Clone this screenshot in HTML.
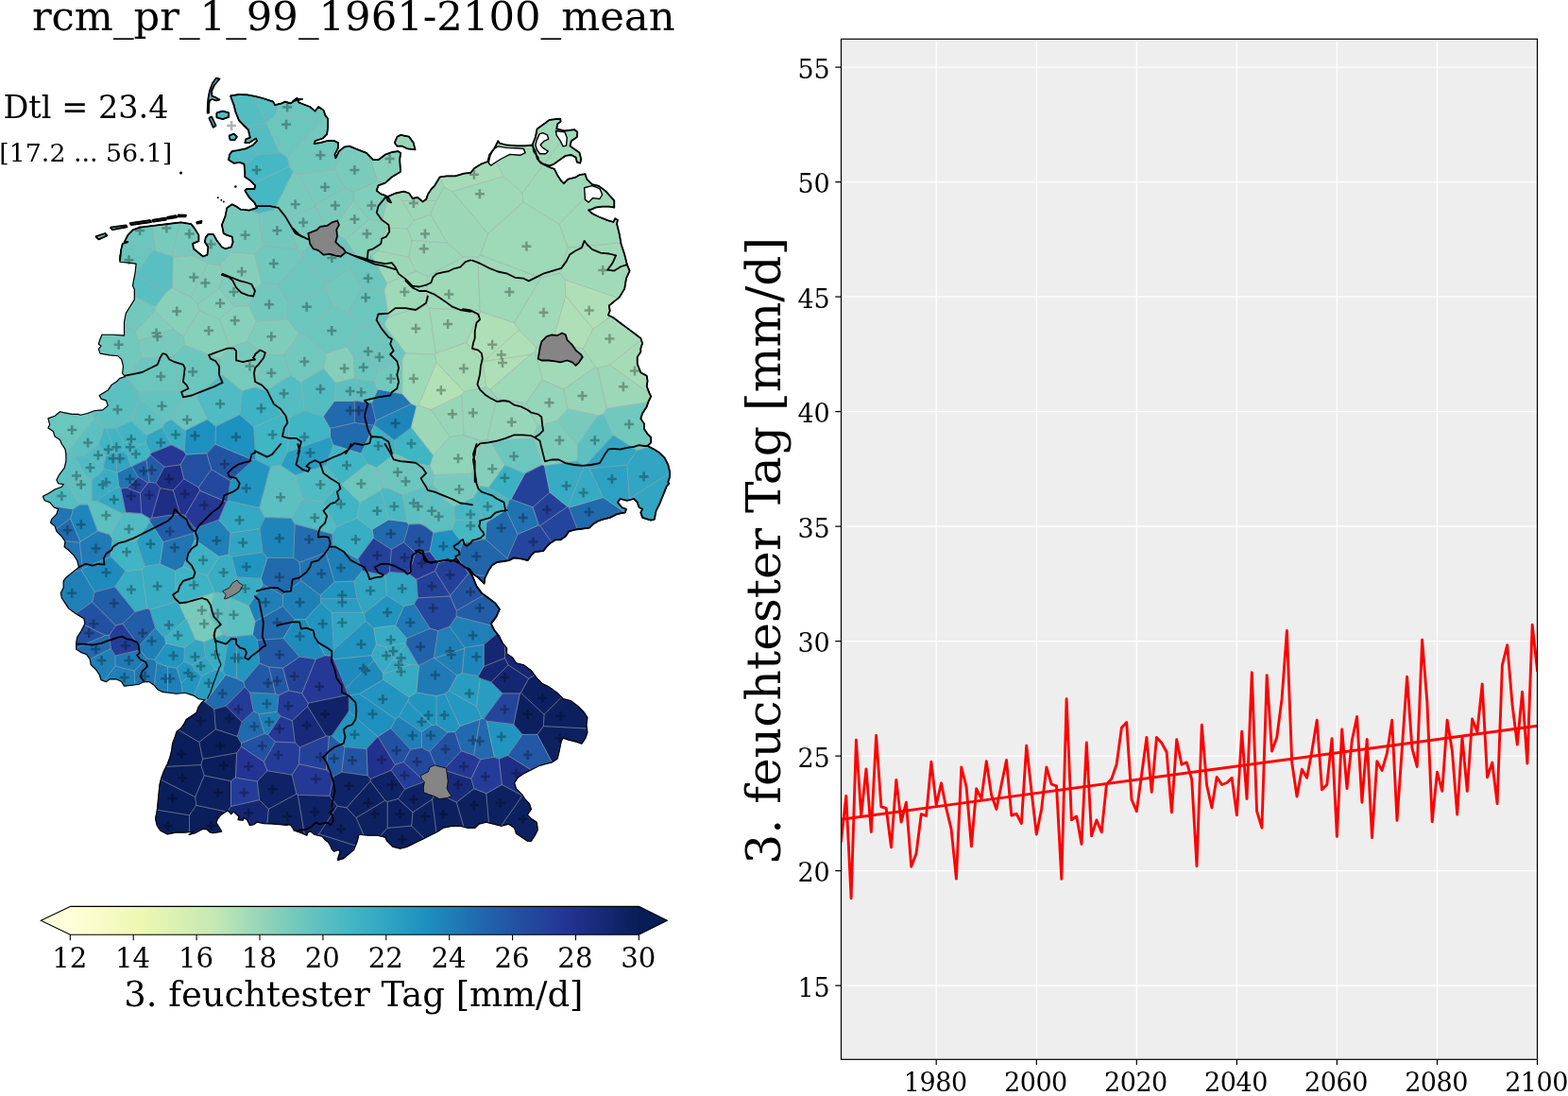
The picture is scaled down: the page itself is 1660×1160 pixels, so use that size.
<!DOCTYPE html>
<html><head><meta charset="utf-8"><title>rcm_pr_1_99_1961-2100_mean</title>
<style>html,body{margin:0;padding:0;background:#fff;width:1660px;height:1160px;overflow:hidden}svg{display:block}</style>
</head><body>
<svg width="1660" height="1160" viewBox="0 0 1660 1160" font-family="'DejaVu Serif', serif"><rect x="890.5" y="41.3" width="737.0" height="1080.0" fill="#eeeeee"/>
<path d="M991.2 41.3V1121.3 M1097.3 41.3V1121.3 M1203.3 41.3V1121.3 M1309.4 41.3V1121.3 M1415.4 41.3V1121.3 M1521.5 41.3V1121.3 M890.5 1043.1H1627.5 M890.5 921.6H1627.5 M890.5 800.1H1627.5 M890.5 678.6H1627.5 M890.5 557.1H1627.5 M890.5 435.6H1627.5 M890.5 314.1H1627.5 M890.5 192.6H1627.5 M890.5 71.1H1627.5" stroke="#fff" stroke-width="1.3" fill="none"/>
<clipPath id="axclip"><rect x="890.5" y="41.3" width="737.0" height="1080.0"/></clipPath>
<g clip-path="url(#axclip)"><polyline points="890.5,890.0 895.8,842.4 901.1,950.8 906.4,783.3 911.7,863.5 917.0,814.0 922.3,880.5 927.6,778.5 932.9,853.8 938.2,855.5 943.5,896.8 948.8,825.4 954.1,870.1 959.4,849.2 964.7,917.2 970.0,903.4 975.3,861.6 980.6,863.5 985.9,806.2 991.2,852.1 996.5,828.8 1001.8,855.7 1007.1,877.6 1012.4,930.1 1017.8,812.0 1023.1,832.9 1028.4,895.8 1033.7,834.8 1039.0,845.3 1044.3,805.7 1049.6,841.4 1054.9,856.5 1060.2,830.2 1065.5,804.5 1070.8,863.0 1076.1,861.3 1081.4,871.5 1086.7,789.2 1092.0,837.5 1097.3,883.0 1102.6,856.5 1107.9,812.0 1113.2,830.2 1118.5,831.9 1123.8,930.3 1129.1,739.8 1134.4,867.9 1139.7,864.0 1145.0,893.4 1150.3,786.0 1155.6,884.9 1160.9,867.9 1166.2,880.8 1171.5,830.0 1176.8,824.2 1182.1,809.1 1187.4,770.2 1192.7,764.6 1198.0,846.3 1203.3,858.7 1208.6,820.0 1213.9,780.4 1219.2,838.3 1224.5,780.4 1229.8,786.2 1235.1,796.0 1240.4,859.9 1245.7,782.8 1251.0,809.3 1256.3,806.9 1261.7,824.9 1267.0,916.7 1272.3,767.1 1277.6,831.0 1282.9,855.0 1288.2,822.5 1293.5,830.5 1298.8,828.5 1304.1,823.2 1309.4,862.8 1314.7,774.3 1320.0,845.5 1325.3,711.6 1330.6,858.7 1335.9,876.2 1341.2,714.6 1346.5,795.0 1351.8,780.4 1357.1,739.4 1362.4,667.4 1367.7,806.9 1373.0,843.1 1378.3,814.2 1383.6,823.2 1388.9,794.8 1394.2,762.2 1399.5,835.8 1404.8,830.5 1410.1,781.6 1415.4,885.4 1420.7,771.9 1426.0,834.6 1431.3,783.8 1436.6,758.5 1441.9,849.2 1447.2,782.4 1452.5,886.6 1457.8,805.7 1463.1,815.4 1468.4,797.2 1473.7,762.2 1479.0,868.4 1484.3,792.3 1489.6,716.3 1494.9,791.6 1500.2,811.5 1505.6,677.1 1510.9,743.2 1516.2,869.8 1521.5,817.1 1526.8,837.3 1532.1,762.2 1537.4,794.8 1542.7,862.1 1548.0,780.2 1553.3,837.3 1558.6,761.0 1563.9,774.6 1569.2,724.0 1574.5,822.7 1579.8,807.1 1585.1,850.6 1590.4,703.9 1595.7,682.7 1601.0,745.4 1606.3,788.0 1611.6,732.1 1616.9,808.1 1622.2,661.3 1627.5,709.5" fill="none" stroke="#ff0000" stroke-width="2.9" stroke-linejoin="round" stroke-linecap="square"/>
<line x1="890.5" y1="867.2" x2="1627.5" y2="768.3" stroke="#ff0000" stroke-width="2.9"/></g>
<rect x="890.5" y="41.3" width="737.0" height="1080.0" fill="none" stroke="#000" stroke-width="1.2"/>
<path d="M884.3 1043.1H890.5 M884.3 921.6H890.5 M884.3 800.1H890.5 M884.3 678.6H890.5 M884.3 557.1H890.5 M884.3 435.6H890.5 M884.3 314.1H890.5 M884.3 192.6H890.5 M884.3 71.1H890.5 M991.2 1121.3V1127.1 M1097.3 1121.3V1127.1 M1203.3 1121.3V1127.1 M1309.4 1121.3V1127.1 M1415.4 1121.3V1127.1 M1521.5 1121.3V1127.1 M1627.5 1121.3V1127.1" stroke="#000" stroke-width="1.2" fill="none"/>
<text x="878.4" y="1054.5" text-anchor="end" font-size="27" letter-spacing="-0.2">15</text>
<text x="878.4" y="933.0" text-anchor="end" font-size="27" letter-spacing="-0.2">20</text>
<text x="878.4" y="811.5" text-anchor="end" font-size="27" letter-spacing="-0.2">25</text>
<text x="878.4" y="690.0" text-anchor="end" font-size="27" letter-spacing="-0.2">30</text>
<text x="878.4" y="568.5" text-anchor="end" font-size="27" letter-spacing="-0.2">35</text>
<text x="878.4" y="447.0" text-anchor="end" font-size="27" letter-spacing="-0.2">40</text>
<text x="878.4" y="325.5" text-anchor="end" font-size="27" letter-spacing="-0.2">45</text>
<text x="878.4" y="204.0" text-anchor="end" font-size="27" letter-spacing="-0.2">50</text>
<text x="878.4" y="82.5" text-anchor="end" font-size="27" letter-spacing="-0.2">55</text>
<text x="990.3" y="1154.6" text-anchor="middle" font-size="27" letter-spacing="-0.45">1980</text>
<text x="1096.4" y="1154.6" text-anchor="middle" font-size="27" letter-spacing="-0.45">2000</text>
<text x="1202.4" y="1154.6" text-anchor="middle" font-size="27" letter-spacing="-0.45">2020</text>
<text x="1308.5" y="1154.6" text-anchor="middle" font-size="27" letter-spacing="-0.45">2040</text>
<text x="1414.5" y="1154.6" text-anchor="middle" font-size="27" letter-spacing="-0.45">2060</text>
<text x="1520.6" y="1154.6" text-anchor="middle" font-size="27" letter-spacing="-0.45">2080</text>
<text x="1626.6" y="1154.6" text-anchor="middle" font-size="27" letter-spacing="-0.45">2100</text>
<text transform="translate(826.4,582.8) rotate(-90)" text-anchor="middle" font-size="50.4">3. feuchtester Tag [mm/d]</text>
<text x="33.9" y="32.3" font-size="43.3">rcm_pr_1_99_1961-2100_mean</text>
<text x="3.5" y="125.1" font-size="33.5">Dtl = 23.4</text>
<text x="-0.7" y="171.1" font-size="26.8">[17.2 ... 56.1]</text>
<linearGradient id="cbg" x1="0" x2="1" y1="0" y2="0"><stop offset="0.0000" stop-color="#ffffd9"/><stop offset="0.1250" stop-color="#edf8b1"/><stop offset="0.2500" stop-color="#c6e9b4"/><stop offset="0.3750" stop-color="#7ecdbb"/><stop offset="0.5000" stop-color="#40b5c4"/><stop offset="0.6250" stop-color="#1d90c0"/><stop offset="0.7500" stop-color="#225da8"/><stop offset="0.8750" stop-color="#243392"/><stop offset="1.0000" stop-color="#081d58"/></linearGradient>
<rect x="74.3" y="959.4" width="602.1" height="29.899999999999977" fill="url(#cbg)"/>
<path d="M75.3 959.4H74.3L43.3 974.3499999999999L74.3 989.3H75.3Z" fill="#ffffd9"/>
<path d="M675.4 959.4H676.4L706.4 974.3499999999999L676.4 989.3H675.4Z" fill="#081d58"/>
<path d="M74.3 959.4L43.3 974.3499999999999L74.3 989.3H676.4L706.4 974.3499999999999L676.4 959.4Z" fill="none" stroke="#000" stroke-width="1.1"/>
<text x="73.7" y="1024.2" text-anchor="middle" font-size="29.2">12</text>
<text x="140.6" y="1024.2" text-anchor="middle" font-size="29.2">14</text>
<text x="207.5" y="1024.2" text-anchor="middle" font-size="29.2">16</text>
<text x="274.4" y="1024.2" text-anchor="middle" font-size="29.2">18</text>
<text x="341.3" y="1024.2" text-anchor="middle" font-size="29.2">20</text>
<text x="408.2" y="1024.2" text-anchor="middle" font-size="29.2">22</text>
<text x="475.1" y="1024.2" text-anchor="middle" font-size="29.2">24</text>
<text x="542.0" y="1024.2" text-anchor="middle" font-size="29.2">26</text>
<text x="608.9" y="1024.2" text-anchor="middle" font-size="29.2">28</text>
<text x="675.8" y="1024.2" text-anchor="middle" font-size="29.2">30</text>
<path d="M74.3 989.3V995.2 M141.2 989.3V995.2 M208.1 989.3V995.2 M275.0 989.3V995.2 M341.9 989.3V995.2 M408.8 989.3V995.2 M475.7 989.3V995.2 M542.6 989.3V995.2 M609.5 989.3V995.2 M676.4 989.3V995.2" stroke="#000" stroke-width="1.1" fill="none"/>
<text x="374.4" y="1064.6" text-anchor="middle" font-size="36.9">3. feuchtester Tag [mm/d]</text>
<path d="M196.8 227.7L188.3 227.5L188.7 229.3L196.5 229.3ZM176.6 230.0L177.6 231.5L187.1 230.0L186.0 228.2ZM161.0 232.9L162.1 234.7L175.8 232.6L175.1 230.7ZM208.1 235.1L208.6 236.5L212.8 236.2L213.5 234.0ZM137.4 236.2L138.9 238.0L159.9 235.1L158.8 233.1ZM116.8 240.7L119.0 243.1L134.4 240.3L133.5 238.5ZM101.2 250.3L104.5 253.4L113.2 249.4L111.4 247.0ZM220.5 104.0L219.8 112.0L219.6 119.5L220.9 119.5L221.1 112.0L221.8 106.5L224.5 105.0L229.0 106.5L232.5 105.5L228.0 103.0L224.3 101.5L224.2 96.0L227.0 90.0L231.0 85.2L232.5 83.5L229.0 82.5L225.0 88.0L222.0 96.0ZM242.1 119.4L235.8 117.6L229.4 119.4L229.4 124.3L235.8 126.1L242.1 123.9ZM221.3 124.8L225.8 134.8L228.5 133.0L224.0 123.5ZM247.6 141.6L242.5 143.5L243.6 147.8L248.5 148.3L250.8 144.7ZM563.4 153.5L556.1 154.4L547.1 154.4L536.2 153.5L529.0 151.7L527.3 149.2L523.7 156.5L518.3 163.7L516.4 171.0L509.2 173.7L502.0 178.2L498.3 182.8L491.1 183.7L482.0 186.4L473.0 186.4L465.7 187.3L460.3 196.3L456.7 200.0L453.1 205.4L451.3 210.8L447.6 213.5L442.2 209.0L436.8 209.9L433.1 204.5L427.7 202.7L418.7 204.5L410.5 208.1L414.1 214.4L410.5 212.6L408.7 207.2L403.3 205.4L398.7 201.8L400.5 196.3L407.8 193.6L415.0 187.3L424.1 181.8L423.2 169.2L424.1 161.9L421.4 160.1L415.0 161.0L407.8 163.7L400.5 169.2L395.1 169.2L387.9 161.9L378.8 158.3L369.8 154.7L364.3 155.6L358.9 160.1L355.3 167.4L354.4 163.7L356.2 160.1L358.0 156.5L358.0 151.1L353.5 148.9L346.2 149.2L339.0 151.1L332.6 152.0L333.5 149.2L341.7 146.5L346.2 142.0L347.1 134.8L347.1 125.7L344.4 122.1L342.6 116.7L337.2 113.0L333.5 117.6L328.1 113.0L316.3 108.5L315.4 106.0L320.0 104.9L315.0 104.9L314.5 103.6L310.0 107.2L311.4 106.9L307.3 109.4L301.9 107.6L298.3 109.4L291.0 111.2L289.2 107.6L278.3 104.0L271.1 102.2L262.0 100.4L253.0 100.0L243.9 101.3L247.6 111.2L249.4 118.5L253.0 127.5L258.4 133.0L262.9 137.5L264.8 145.6L260.2 147.4L259.3 151.1L263.9 151.1L271.1 146.5L272.0 149.2L267.5 153.8L260.2 157.4L251.2 159.2L245.7 160.1L243.0 163.7L242.1 169.2L247.6 172.8L253.9 171.9L258.4 173.7L259.3 181.8L259.3 187.3L264.8 190.9L270.2 196.3L269.3 200.0L261.1 200.0L259.3 201.8L263.9 209.0L269.3 214.4L272.0 219.9L263.9 222.6L254.8 221.7L249.4 218.1L245.7 216.3L240.3 219.9L238.5 228.9L234.9 238.0L236.7 247.0L240.3 248.9L245.7 250.7L246.6 256.1L244.8 261.5L238.5 263.3L234.9 261.5L229.4 254.3L225.8 247.9L220.4 247.9L217.7 251.6L216.8 256.1L220.4 261.5L219.5 269.7L215.0 271.5L209.5 267.0L205.0 263.3L204.1 257.9L210.4 255.2L210.4 248.9L205.9 241.6L202.3 237.1L191.4 235.3L176.9 237.1L162.4 238.9L148.0 240.7L140.7 243.4L135.3 248.9L131.7 256.1L135.3 256.1L129.8 257.9L128.0 265.1L127.1 276.0L126.9 270.0L126.9 277.2L136.0 278.1L144.1 279.1L143.2 288.1L141.4 297.2L140.5 302.6L142.3 306.2L142.3 317.1L137.8 324.3L133.3 331.6L131.5 340.6L131.5 355.1L119.7 354.2L107.9 354.2L106.1 358.7L104.3 364.2L107.0 366.0L104.3 369.6L106.1 374.1L116.1 375.9L125.1 376.8L128.7 380.5L130.5 387.7L129.6 395.0L132.4 398.6L126.9 400.4L123.3 404.0L117.9 407.6L114.2 413.1L105.2 418.5L107.0 422.1L112.4 423.9L114.2 429.4L108.8 433.9L99.8 434.8L92.5 437.5L85.3 439.3L82.6 438.4L76.2 438.4L67.2 436.6L63.5 435.7L58.1 440.2L50.9 442.9L52.7 449.3L50.9 452.9L56.3 456.5L58.1 462.0L63.5 465.6L65.4 470.0L69.0 475.4L69.9 480.9L69.9 488.1L68.1 495.4L62.6 502.6L59.9 508.0L61.7 511.7L67.2 512.6L65.4 515.3L58.1 518.0L50.9 522.5L45.4 525.2L47.2 529.8L52.7 531.6L57.2 537.0L61.7 538.8L59.9 544.2L54.5 549.7L53.6 553.3L58.1 556.9L59.9 562.4L65.4 567.8L69.0 573.2L68.1 578.7L72.6 582.3L78.0 587.7L81.7 593.1L83.5 600.4L78.9 604.0L74.4 607.6L69.9 611.3L67.2 614.9L67.2 622.1L64.4 627.6L65.4 633.0L69.0 638.4L72.6 643.9L79.8 649.3L88.9 654.7L89.9 660.0L86.3 667.2L81.7 674.5L80.8 679.9L80.8 687.2L86.3 690.8L91.7 692.6L95.3 698.0L96.2 703.5L101.7 708.9L105.3 714.3L107.1 719.8L112.5 721.6L116.1 718.9L123.4 718.9L128.8 721.6L131.5 726.1L139.7 725.2L146.9 724.3L152.4 721.6L157.8 721.6L163.2 725.2L166.8 729.7L172.3 732.4L179.5 733.3L186.8 734.2L195.8 733.3L204.9 736.1L210.3 739.7L217.0 740.7L213.4 743.5L209.8 748.9L208.0 754.3L202.5 758.0L197.1 761.6L195.3 765.2L191.7 770.6L187.1 774.2L185.3 779.7L182.6 786.9L181.7 794.2L179.9 801.4L177.2 808.7L173.5 815.9L170.8 823.1L169.0 830.4L168.1 839.4L167.2 848.5L166.3 857.6L164.5 866.6L166.3 873.9L169.9 879.3L173.5 881.1L177.2 882.9L186.2 881.1L195.3 881.1L204.3 880.2L200.0 883.5L206.5 881.7L214.5 877.4L218.8 877.7L221.7 880.6L225.3 881.7L234.7 880.3L232.5 876.3L228.9 870.5L230.4 866.9L234.0 862.5L238.3 859.6L241.2 857.8L244.8 861.8L247.0 858.9L252.8 864.0L252.1 867.6L257.1 868.3L257.8 865.4L261.5 867.6L264.4 873.4L268.7 872.7L272.3 870.1L279.5 871.6L287.5 871.9L296.9 872.7L304.1 873.4L302.3 872.4L307.7 873.3L309.5 876.0L311.3 878.7L315.8 880.5L320.4 882.3L324.9 884.2L325.8 881.4L328.5 879.6L330.3 881.4L333.0 883.3L336.6 884.2L341.1 885.1L343.9 888.7L347.5 891.4L350.2 895.9L351.1 898.6L353.8 901.3L358.3 899.5L360.1 901.3L358.3 906.7L357.4 910.4L363.7 908.6L369.2 904.0L374.6 899.5L378.2 890.5L380.0 883.2L389.9 884.2L399.8 884.2L407.8 886.2L409.7 890.2L415.7 896.1L423.6 898.1L431.5 896.1L439.5 892.1L447.4 888.2L455.3 884.2L463.3 880.2L469.2 876.3L479.1 874.3L487.1 874.3L495.0 876.3L502.9 876.3L506.9 872.3L514.8 870.3L522.7 872.3L530.7 874.3L538.6 872.3L544.6 876.3L546.5 882.2L552.5 886.2L558.4 890.2L562.4 890.2L566.4 884.2L569.3 878.3L568.3 870.3L562.4 866.4L558.4 862.4L562.4 856.4L560.4 850.5L556.4 846.5L552.5 840.6L546.5 834.6L544.6 828.7L548.5 822.7L554.5 818.8L562.4 814.8L570.3 810.8L576.3 808.9L584.2 806.9L590.2 802.9L592.1 795.0L594.1 785.1L596.1 781.1L602.0 783.1L610.0 785.1L615.9 787.1L619.9 781.1L621.9 775.2L620.9 767.2L621.9 759.3L617.9 753.4L612.0 747.4L604.0 741.5L596.1 739.5L590.2 733.5L582.2 727.6L574.3 723.6L568.3 717.7L562.4 709.7L554.5 703.8L546.5 701.8L542.6 695.9L536.6 691.9L536.6 685.9L531.7 680.1L528.0 672.8L523.5 667.4L519.9 660.1L525.3 652.9L528.9 644.8L524.4 638.4L517.2 633.0L509.9 627.6L504.5 620.3L500.0 609.4L497.2 604.9L500.9 607.6L506.3 611.3L509.9 614.9L512.6 617.6L513.5 611.3L517.2 604.0L520.8 598.6L526.2 595.0L533.5 594.0L538.9 593.1L544.3 590.4L551.6 591.3L558.8 593.1L562.4 587.7L566.1 584.1L575.1 583.2L578.7 578.7L582.4 575.0L587.8 571.4L593.2 571.4L598.7 567.8L602.3 562.4L609.5 560.5L616.8 559.6L624.0 558.7L627.6 555.1L633.1 551.5L638.5 549.7L645.7 547.9L653.0 544.2L662.0 542.4L662.9 538.8L658.4 537.0L653.9 531.6L656.6 528.0L663.9 529.8L671.1 528.0L674.7 531.6L676.5 537.0L680.1 538.8L678.3 542.4L680.1 547.9L689.2 550.6L692.8 549.7L694.6 540.6L698.3 533.4L701.9 524.3L705.5 515.3L708.2 511.7L707.3 510.1L709.1 504.6L709.1 499.2L707.3 492.0L703.7 484.7L698.3 479.3L692.8 475.7L685.6 472.0L689.2 468.4L689.2 463.0L685.6 459.4L682.0 453.9L682.0 448.5L678.3 443.1L680.1 437.6L684.7 430.4L686.5 425.0L689.2 419.5L687.4 415.9L684.7 408.7L685.6 403.2L684.7 397.8L678.3 394.2L674.7 385.1L674.7 377.9L678.3 372.4L678.3 368.8L680.1 363.4L678.3 358.0L671.1 352.5L663.9 347.1L656.6 341.7L649.4 336.2L643.9 333.5L645.7 329.0L644.8 323.5L655.7 314.6L661.2 305.6L663.0 294.7L666.6 286.6L663.9 280.2L661.2 269.4L657.6 258.5L655.7 247.6L653.0 236.8L653.9 233.1L651.2 231.3L649.4 235.0L643.1 233.1L634.0 229.5L626.8 225.9L623.1 222.3L626.8 221.4L630.4 219.6L637.6 218.7L644.9 218.7L650.3 219.6L650.3 212.3L641.3 202.4L634.0 196.9L626.8 195.1L621.3 189.7L619.5 184.2L613.2 185.2L608.7 187.9L601.4 189.7L596.9 194.2L594.2 191.5L590.5 186.1L586.9 178.8L581.5 177.0L572.4 172.5L570.6 170.2L574.7 173.4L581.6 175.6L585.9 173.9L592.8 169.1L598.8 164.8L604.8 164.0L609.6 166.6L610.9 171.7L614.3 172.6L615.2 168.3L613.4 161.4L608.3 157.9L603.5 154.5L604.8 149.3L610.9 145.0L611.3 139.8L608.3 137.2L597.9 138.5L589.3 136.4L590.2 131.2L593.6 128.6L593.2 125.6L581.6 126.9L577.2 130.3L568.6 136.4L566.9 145.0L563.9 152.8L564.3 155.4ZM568.8 168.0L567.9 164.3L569.5 166.6L570.3 169.8ZM439.5 158.3L437.7 151.1L433.1 144.7L424.1 142.9L420.5 144.7L417.8 151.1L420.5 154.7L425.9 154.7L431.3 157.4Z" fill="#40b5c4"/>
<g stroke-width="0.6" stroke-linejoin="round">
<path fill="#2075b3" stroke="#2075b3" d="M74.6 548.8L77.6 538.8L55.8 535.4L57.2 537.0L61.7 538.8L59.9 544.2L54.5 549.7L53.6 553.3L58.1 556.9L59.1 560.1ZM86.4 603.7L87.4 601.7L84.3 574.3L68.6 572.6L69.0 573.2L68.1 578.7L72.6 582.3L78.0 587.7L81.7 593.1L83.5 600.4L78.9 604.0L77.5 605.2ZM126.0 515.3L127.9 516.8L134.5 516.3L146.1 504.7L139.5 493.5L138.3 493.2L123.9 500.4ZM143.0 724.8L146.9 724.3L152.4 721.6L157.8 721.6L163.2 725.2L163.3 725.4L166.0 701.5L163.8 698.4L155.5 696.8L142.2 710.2ZM169.3 597.1L185.5 604.2L193.7 600.0L206.4 571.3L205.3 564.4L172.7 573.7ZM318.6 614.4L339.2 630.1L354.2 615.9L345.0 585.0L317.0 595.2ZM398.0 445.1L435.6 427.4L425.8 416.8L399.9 412.0L393.4 426.5ZM446.4 774.6L446.4 791.2L454.8 795.6L474.0 774.9L462.0 766.9L457.0 767.5Z"/>
<path fill="#1f80b8" stroke="#1f80b8" d="M97.6 637.1L100.1 626.6L86.4 603.7L77.5 605.2L74.4 607.6L69.9 611.3L67.2 614.9L67.2 622.1L64.4 627.6L65.4 633.0L69.0 638.4L72.6 643.9L79.8 649.3L80.0 649.4ZM122.0 704.8L122.0 694.0L117.4 686.5L95.1 697.7L95.3 698.0L96.2 703.5L101.7 708.9L105.3 714.3L107.1 719.8L110.0 720.8ZM110.0 720.8L112.5 721.6L116.1 718.9L123.4 718.9L128.8 721.6L131.5 726.1L139.7 725.2L143.0 724.8L142.2 710.2L122.0 704.8ZM148.0 688.0L155.5 696.8L163.8 698.4L175.7 681.0L174.5 675.1L164.5 664.4L147.3 683.9ZM166.0 701.5L163.3 725.4L166.8 729.7L172.3 732.4L177.5 733.1L177.5 705.6ZM177.5 733.1L179.5 733.3L186.8 734.2L193.2 733.6L192.1 723.1L187.0 707.0L177.5 705.6ZM205.3 564.4L206.4 571.3L231.9 589.3L242.1 587.1L244.1 564.2L231.6 550.3L206.3 559.3ZM269.9 658.0L299.4 641.6L299.4 630.0L278.3 618.5L263.2 641.0ZM268.4 752.8L273.8 755.7L293.2 753.3L295.0 735.9L291.7 734.4L264.5 732.9ZM280.1 776.4L283.8 777.5L297.0 757.8L293.2 753.3L273.8 755.7ZM299.4 641.6L312.0 655.5L323.3 655.5L339.8 638.1L339.8 633.8L339.2 630.1L318.6 614.4L299.4 630.0ZM345.0 585.0L354.2 615.9L375.1 615.1L383.5 604.2L379.0 591.4L351.9 577.3ZM413.7 770.7L434.6 793.2L446.4 791.2L446.4 774.6L422.1 758.4L418.9 761.0ZM459.4 696.2L460.2 696.7L491.7 686.2L491.9 685.5L476.1 663.0L463.8 667.8ZM483.8 715.1L489.3 712.5L491.7 686.2L460.2 696.7ZM476.1 663.0L491.9 685.5L512.1 682.3L526.1 670.5L523.5 667.4L520.9 662.1L483.2 652.6Z"/>
<path fill="#216aad" stroke="#216aad" d="M59.1 560.1L59.9 562.4L65.4 567.8L68.6 572.6L84.3 574.3L84.9 573.4L74.6 548.8ZM117.4 686.5L115.7 672.2L111.6 672.6L80.8 685.8L80.8 687.2L86.3 690.8L91.7 692.6L95.1 697.7ZM226.7 750.6L239.1 747.2L259.3 727.0L258.0 721.6L250.5 718.2L239.0 714.1L217.3 743.1ZM255.4 786.6L280.1 776.4L273.8 755.7L268.4 752.8L256.1 764.2L251.3 779.4ZM267.3 671.8L272.6 677.6L299.9 675.6L312.0 655.5L299.4 641.6L269.9 658.0ZM278.3 618.5L299.4 630.0L318.6 614.4L317.0 595.2L310.7 590.3L283.0 590.3L276.2 612.2ZM349.5 462.2L352.8 471.0L382.4 480.1L396.1 450.2L375.3 447.5L349.3 453.4ZM342.0 440.8L349.3 453.4L375.3 447.5L375.3 424.4L354.0 424.4ZM395.4 569.4L414.4 581.4L427.5 573.9L432.8 555.0L430.1 552.3L411.4 549.9L394.0 560.4ZM481.6 774.6L488.3 794.7L501.7 799.3L508.1 761.3L487.0 768.6ZM508.1 761.3L501.7 799.3L508.6 803.7L523.4 801.3L515.3 763.1L512.1 760.6L510.0 760.3ZM513.6 570.5L537.0 591.1L548.0 565.5L535.8 539.7L514.9 552.9ZM661.0 541.9L638.6 526.5L602.3 537.2L611.4 560.3L616.8 559.6L624.0 558.7L627.6 555.1L633.1 551.5L638.5 549.7L645.7 547.9L653.0 544.2L661.2 542.6Z"/>
<path fill="#53bdc1" stroke="#53bdc1" d="M77.6 538.8L84.5 534.2L72.4 513.7L61.1 505.6L59.9 508.0L61.7 511.7L67.2 512.6L65.4 515.3L58.1 518.0L50.9 522.5L45.4 525.2L47.2 529.8L52.7 531.6L55.8 535.4ZM227.5 89.4L231.0 85.2L232.5 83.5L229.0 82.5L225.7 87.0ZM260.9 133.9L281.9 130.4L282.1 129.7L268.1 101.6L262.0 100.4L253.0 100.0L243.9 101.3L247.6 111.2L249.4 118.5L249.4 118.5ZM273.8 163.4L296.4 161.8L281.9 130.4L260.9 133.9L260.3 134.9L262.9 137.5L264.8 145.6L260.2 147.4L259.3 151.1L263.9 151.1L271.1 146.5L272.0 149.2L267.5 153.8L264.2 155.4ZM281.4 413.4L298.2 439.3L306.8 441.7L322.4 434.3L318.7 404.3L307.8 397.3ZM342.0 440.8L354.0 424.4L355.5 405.1L342.8 390.2L318.7 404.3L322.4 434.3Z"/>
<path fill="#5dc0c0" stroke="#5dc0c0" d="M72.4 513.7L91.3 504.3L78.9 483.1L70.2 480.1L69.8 480.2L69.9 480.9L69.9 488.1L68.1 495.4L62.6 502.6L61.1 505.6ZM84.5 534.2L93.2 534.2L97.3 530.8L97.3 507.5L91.3 504.3L72.4 513.7ZM78.9 483.1L89.9 482.1L104.6 470.1L110.5 452.4L99.6 442.7L70.2 480.1ZM112.9 453.0L122.6 453.3L139.2 445.7L147.2 420.8L146.7 415.1L134.6 399.2L130.8 399.1L126.9 400.4L123.3 404.0L117.9 407.6L114.2 413.1L105.2 418.5L107.0 422.1L112.4 423.9L114.2 429.4L108.8 433.9L99.8 434.8L96.6 436.0L99.6 442.7L110.5 452.4ZM93.2 534.2L103.3 562.0L116.5 566.1L129.9 543.8L102.7 530.2L97.3 530.8ZM139.2 445.7L155.3 460.8L171.9 452.5L175.3 446.6L147.2 420.8ZM221.3 652.0L235.9 671.6L237.5 671.6L240.4 631.1L237.9 628.3L227.0 626.8L226.6 627.1ZM242.2 673.8L250.5 673.5L267.3 671.8L269.9 658.0L263.2 641.0L240.4 631.1L237.5 671.6ZM280.4 547.6L308.4 548.4L320.7 527.9L312.8 502.9L297.3 492.6L286.2 494.0L274.7 537.3ZM354.0 424.4L375.3 424.4L375.5 424.3L377.9 401.5L375.3 400.1L355.5 405.1ZM375.5 424.3L393.4 426.5L399.9 412.0L395.8 403.2L377.9 401.5ZM430.1 552.3L432.8 555.0L444.6 554.6L458.5 512.7L458.1 511.7L456.6 512.5L430.1 547.8ZM430.1 547.8L456.6 512.5L425.8 523.8ZM444.6 554.6L450.0 556.9L472.3 530.1L458.5 512.7ZM458.9 563.8L478.8 560.7L481.7 550.5L480.7 536.4L472.3 530.1L450.0 556.9ZM618.7 492.7L619.5 492.8L649.3 460.6L638.8 438.1L633.0 439.7L611.1 470.7L611.1 487.9Z"/>
<path fill="#6bc6be" stroke="#6bc6be" d="M70.2 480.1L99.6 442.7L96.6 436.0L92.5 437.5L85.3 439.3L82.6 438.4L76.2 438.4L67.2 436.6L63.5 435.7L58.1 440.2L50.9 442.9L52.7 449.3L50.9 452.9L56.3 456.5L58.1 462.0L63.5 465.6L65.4 470.0L69.0 475.4L69.8 480.2ZM144.0 290.4L160.7 266.4L134.0 256.5L129.8 257.9L128.0 265.1L127.1 276.0L126.9 270.0L126.9 277.2L136.0 278.1L144.1 279.1L143.2 288.1L142.6 291.2ZM109.7 247.6L101.2 250.3L104.5 253.4L113.2 249.4L112.6 248.6ZM146.7 415.1L189.7 413.4L184.3 376.0L150.0 378.9L134.6 399.2ZM112.6 248.6L111.4 247.0L109.7 247.6ZM132.8 256.1L135.3 256.1L134.0 256.5L160.7 266.4L164.2 265.5L161.9 239.0L148.0 240.7L140.7 243.4L135.3 248.9L131.9 255.7ZM138.9 238.0L159.9 235.1L158.8 233.1L137.4 236.2ZM119.0 243.1L134.4 240.3L133.5 238.5L116.8 240.7ZM184.3 376.0L189.7 413.4L195.1 418.2L207.8 419.7L234.9 396.5L233.2 379.9L195.2 365.1ZM281.9 130.4L296.4 161.8L304.2 166.8L341.7 125.2L291.5 121.8L282.1 129.7ZM291.5 121.8L341.7 125.2L345.0 122.9L344.4 122.1L342.6 116.7L337.2 113.0L333.5 117.6L328.1 113.0L316.3 108.5L315.4 106.0L320.0 104.9L315.0 104.9L314.5 103.6L310.0 107.2L311.4 106.9L307.3 109.4L301.9 107.6L298.3 109.4L294.2 110.4ZM304.0 338.0L317.0 353.5L322.5 353.7L351.7 323.1L345.2 306.0L305.0 320.2ZM345.5 374.2L367.1 367.0L380.2 343.8L368.0 331.3L351.7 323.1L322.5 353.7ZM380.2 343.8L406.8 342.7L411.2 335.6L407.0 307.0L384.0 304.3L368.0 331.3ZM377.9 401.5L395.8 403.2L399.8 393.6L392.3 381.8L373.9 376.5L375.3 400.1ZM369.9 284.8L384.0 304.3L407.0 307.0L409.7 299.8L394.0 270.9L377.5 271.4ZM534.2 492.2L555.6 501.3L574.3 491.9L564.3 463.4L519.2 466.4Z"/>
<path fill="#1f7ab5" stroke="#1f7ab5" d="M84.3 574.3L87.4 601.7L117.1 589.0L119.1 570.6L116.5 566.1L103.3 562.0L84.9 573.4ZM122.0 704.8L142.2 710.2L155.5 696.8L148.0 688.0L122.0 694.0ZM418.5 661.9L430.7 675.7L455.3 665.1L438.4 639.1L427.7 641.5ZM440.7 732.9L462.0 736.6L471.1 734.5L475.4 731.0L483.8 715.1L460.2 696.7L459.4 696.2L443.6 704.4Z"/>
<path fill="#1e86bb" stroke="#1e86bb" d="M74.6 548.8L84.9 573.4L103.3 562.0L93.2 534.2L84.5 534.2L77.6 538.8Z"/>
<path fill="#71c8bd" stroke="#71c8bd" d="M134.6 399.2L150.0 378.9L146.3 360.8L143.2 350.7L131.5 345.6L131.5 355.1L119.7 354.2L107.9 354.2L106.1 358.7L104.3 364.2L107.0 366.0L104.3 369.6L106.1 374.1L116.1 375.9L125.1 376.8L128.7 380.5L130.5 387.7L129.6 395.0L132.4 398.6L130.8 399.1ZM277.0 299.5L294.6 301.4L320.3 273.4L319.7 267.5L314.6 263.8L278.4 260.1L269.4 269.1ZM269.9 410.0L281.4 413.4L307.8 397.3L300.3 375.5L280.8 375.5ZM306.4 176.2L310.1 182.1L315.6 184.9L354.2 179.4L364.5 155.6L364.3 155.6L358.9 160.1L355.3 167.4L354.4 163.7L356.2 160.1L358.0 156.5L358.0 151.1L353.5 148.9L346.2 149.2L339.0 151.1L332.6 152.0L333.5 149.2L341.7 146.5L346.2 142.0L347.1 134.8L347.1 125.7L345.0 122.9L341.7 125.2L304.2 166.8ZM307.8 397.3L318.7 404.3L342.8 390.2L345.5 374.2L322.5 353.7L317.0 353.5L300.3 375.5ZM345.2 306.0L351.7 323.1L368.0 331.3L384.0 304.3L369.9 284.8L345.5 300.5ZM399.9 412.0L425.8 416.8L425.8 379.9L399.8 393.6L395.8 403.2ZM638.8 438.1L649.3 460.6L674.0 476.8L687.5 473.0L685.6 472.0L689.2 468.4L689.2 463.0L685.6 459.4L682.0 453.9L682.0 448.5L678.3 443.1L680.1 437.6L684.7 430.4L686.3 425.7L642.3 432.3Z"/>
<path fill="#2351a2" stroke="#2351a2" d="M80.0 649.4L88.9 654.7L89.9 660.0L89.2 661.4L111.6 672.6L115.7 672.2L122.6 662.1L97.6 637.1ZM111.6 672.6L89.2 661.4L86.3 667.2L81.7 674.5L80.8 679.9L80.8 685.8ZM279.3 806.2L291.4 785.1L283.8 777.5L280.1 776.4L255.4 786.6L255.4 790.2ZM400.0 779.6L418.3 809.4L427.2 806.5L434.6 793.2L413.7 770.7ZM464.1 816.8L469.3 815.0L488.3 794.7L481.6 774.6L474.0 774.9L454.8 795.6Z"/>
<path fill="#50bbc2" stroke="#50bbc2" d="M97.3 507.5L104.3 502.4L110.0 496.3L109.3 494.4L89.9 482.1L78.9 483.1L91.3 504.3ZM109.3 494.4L111.9 483.2L104.6 470.1L89.9 482.1ZM119.1 570.6L144.5 573.1L158.7 552.2L158.9 548.9L149.8 543.5L133.0 542.3L129.9 543.8L116.5 566.1ZM260.9 133.9L249.4 118.5L253.0 127.5L258.4 133.0L260.3 134.9ZM225.7 87.0L225.0 88.0L222.0 96.0L220.5 104.0L219.8 112.0L219.6 119.5L220.9 119.5L221.1 112.0L221.8 106.5L224.5 105.0L229.0 106.5L232.5 105.5L228.0 103.0L224.3 101.5L224.2 96.0L227.0 90.0L227.5 89.4ZM235.8 117.6L229.4 119.4L229.4 124.3L235.8 126.1L242.1 123.9L242.1 119.4ZM225.8 134.8L228.5 133.0L224.0 123.5L221.3 124.8ZM242.5 143.5L243.6 147.8L248.5 148.3L250.8 144.7L247.6 141.6ZM273.8 163.4L264.2 155.4L260.2 157.4L251.2 159.2L245.7 160.1L243.0 163.7L242.1 169.2L247.6 172.8L253.9 171.9L258.4 173.7L258.6 175.6ZM219.5 444.1L228.5 451.2L253.7 439.0L256.6 413.7L234.9 396.5L207.8 419.7ZM312.1 554.7L351.9 565.2L355.9 557.7L342.3 531.6L320.7 527.9L308.4 548.4ZM312.8 502.9L320.7 527.9L342.3 531.6L360.3 512.5L345.4 492.4Z"/>
<path fill="#39adc3" stroke="#39adc3" d="M97.3 530.8L102.7 530.2L116.0 520.0L104.3 502.4L97.3 507.5ZM104.3 502.4L116.0 520.0L126.0 515.3L123.9 500.4L123.3 500.0L110.0 496.3ZM121.6 621.0L142.9 647.6L155.7 644.2L150.2 602.5L132.8 604.6ZM150.2 602.5L155.7 644.2L158.6 645.1L186.5 636.9L185.5 604.2L169.3 597.1L153.3 599.7ZM195.2 478.0L196.5 455.6L181.1 443.7L175.3 446.6L171.9 452.5L181.7 470.8ZM217.5 695.2L228.0 708.8L235.7 710.7L242.2 673.8L237.5 671.6L235.9 671.6L215.7 679.0ZM227.0 626.8L237.9 628.3L250.7 610.9L245.3 589.2L242.1 587.1L231.9 589.3L219.6 609.4ZM240.4 631.1L263.2 641.0L278.3 618.5L276.2 612.2L250.7 610.9L237.9 628.3ZM351.9 577.3L379.0 591.4L395.4 569.4L394.0 560.4L378.0 548.4L355.9 557.7L351.9 565.2Z"/>
<path fill="#40b5c4" stroke="#40b5c4" d="M110.5 452.4L104.6 470.1L111.9 483.2L120.3 478.9L112.9 453.0ZM117.1 589.0L132.8 604.6L150.2 602.5L153.3 599.7L144.5 573.1L119.1 570.6ZM130.5 477.6L130.5 467.9L122.6 453.3L112.9 453.0L120.3 478.9L123.3 479.8ZM122.6 453.3L130.5 467.9L148.4 470.5L154.4 468.6L155.3 460.8L139.2 445.7ZM130.5 477.6L135.0 481.7L148.4 470.5L130.5 467.9ZM135.0 481.7L138.3 493.2L139.5 493.5L154.8 486.4L159.4 481.7L159.4 479.8L154.4 468.6L148.4 470.5ZM270.8 486.4L286.2 494.0L297.3 492.6L304.2 478.4L306.8 441.7L298.2 439.3L268.7 452.1ZM304.2 478.4L349.5 462.2L349.3 453.4L342.0 440.8L322.4 434.3L306.8 441.7ZM360.3 512.5L361.6 512.7L389.0 490.8L382.4 480.1L352.8 471.0L345.4 492.4ZM355.9 557.7L378.0 548.4L381.1 532.0L361.6 512.7L360.3 512.5L342.3 531.6ZM418.6 480.1L441.0 490.8L455.3 493.0L458.8 481.9L435.5 452.2L417.7 466.1Z"/>
<path fill="#091e5a" stroke="#091e5a" d="M200.5 862.8L166.3 857.2L166.3 857.6L164.5 866.6L166.3 873.9L169.9 879.3L173.5 881.1L177.2 882.9L186.2 881.1L195.3 881.1L200.5 880.6ZM200.5 862.8L207.8 852.4L206.7 843.5L170.3 825.3L169.0 830.4L168.1 839.4L167.2 848.5L166.3 857.2ZM212.8 809.6L214.5 803.3L210.8 785.4L189.1 772.7L187.1 774.2L185.3 779.7L182.6 786.9L181.7 794.2L179.9 801.4L177.2 808.7L175.8 811.4ZM200.5 862.8L200.5 880.6L204.3 880.2L200.5 883.1L200.5 883.4L206.5 881.7L214.5 877.4L218.8 877.7L221.7 880.6L225.3 881.7L234.7 880.3L232.5 876.3L228.9 870.5L230.4 866.9L234.0 862.5L238.3 859.6L239.3 859.0L207.8 852.4Z"/>
<path fill="#1e8bbd" stroke="#1e8bbd" d="M86.4 603.7L100.1 626.6L121.6 621.0L132.8 604.6L117.1 589.0L87.4 601.7ZM299.9 675.6L317.2 695.1L334.4 697.6L344.3 693.8L323.3 655.5L312.0 655.5ZM368.5 735.4L369.3 736.1L380.5 734.4L405.7 719.3L405.8 713.3L405.7 712.5L395.8 698.8L366.1 728.5ZM393.1 693.8L353.4 697.6L366.1 728.5L395.8 698.8Z"/>
<path fill="#243d98" stroke="#243d98" d="M115.7 672.2L117.4 686.5L122.0 694.0L148.0 688.0L147.3 683.9L129.9 660.1L122.6 662.1Z"/>
<path fill="#31a5c2" stroke="#31a5c2" d="M110.0 496.3L123.3 500.0L123.3 479.8L120.3 478.9L111.9 483.2L109.3 494.4ZM123.3 500.0L123.9 500.4L138.3 493.2L135.0 481.7L130.5 477.6L123.3 479.8ZM154.4 468.6L159.4 479.8L181.7 470.8L171.9 452.5L155.3 460.8ZM194.8 700.3L203.4 704.0L217.5 695.2L215.7 679.0L206.7 676.6L195.5 685.4ZM213.5 715.6L228.0 708.8L217.5 695.2L203.4 704.0L206.1 709.0ZM242.1 587.1L245.3 589.2L278.0 584.5L274.9 559.6L244.1 564.2ZM353.5 687.2L387.0 657.6L385.2 649.3L384.0 648.3L351.2 648.3ZM385.2 649.3L409.4 630.3L407.9 608.9L383.5 604.2L375.1 615.1L378.1 633.8L384.0 648.3ZM409.4 630.3L427.7 641.5L438.4 639.1L442.4 632.8L440.9 613.3L432.7 607.0L412.4 605.5L407.9 608.9ZM666.3 527.6L665.7 529.4L671.1 528.0L674.7 531.6L676.5 537.0L680.1 538.8L678.3 542.4L680.1 547.9L689.2 550.6L692.8 549.7L694.6 540.6L698.3 533.4L701.9 524.3L705.5 515.3L708.2 511.7L707.3 510.1L709.1 504.6L709.1 500.9ZM661.0 541.9L661.2 542.6L662.0 542.4L662.9 538.8L662.3 538.6ZM619.5 492.8L623.9 495.8L663.8 492.2L674.0 476.8L649.3 460.6ZM666.3 527.6L709.1 500.9L709.1 499.2L707.3 492.0L703.7 484.7L698.3 479.3L692.8 475.7L687.5 473.0L674.0 476.8L663.8 492.2Z"/>
<path fill="#34a9c3" stroke="#34a9c3" d="M116.0 520.0L102.7 530.2L129.9 543.8L133.0 542.3L127.9 516.8L126.0 515.3ZM174.5 675.1L196.9 655.1L189.6 638.9L186.5 636.9L158.6 645.1L164.5 664.4ZM239.7 531.2L231.6 550.3L244.1 564.2L274.9 559.6L280.4 547.6L274.7 537.3L241.1 530.1Z"/>
<path fill="#225da8" stroke="#225da8" d="M97.6 637.1L122.6 662.1L129.9 660.1L142.9 647.6L121.6 621.0L100.1 626.6ZM129.9 660.1L147.3 683.9L164.5 664.4L158.6 645.1L155.7 644.2L142.9 647.6ZM156.7 510.9L158.2 510.5L154.8 486.4L139.5 493.5L146.1 504.7ZM154.8 486.4L158.2 510.5L164.9 511.1L174.0 494.2L159.4 481.7ZM158.9 548.9L158.7 552.2L172.7 573.7L205.3 564.4L206.3 559.3L195.9 545.8L190.7 543.8L160.5 548.1ZM348.4 779.3L345.4 814.8L353.2 821.7L361.7 817.1L365.0 790.5L351.3 778.7ZM483.2 652.6L520.9 662.1L519.9 660.1L525.3 652.9L528.9 644.8L524.4 638.4L517.2 633.0L512.6 629.6L483.2 646.3Z"/>
<path fill="#59bfc0" stroke="#59bfc0" d="M142.6 291.2L141.4 297.2L140.5 302.6L142.3 306.2L142.3 313.8L164.4 324.8L175.9 309.5L144.0 290.4ZM144.0 290.4L175.9 309.5L182.7 304.7L183.5 272.5L181.8 271.0L164.2 265.5L160.7 266.4Z"/>
<path fill="#253896" stroke="#253896" d="M133.0 542.3L149.8 543.5L148.4 521.9L134.5 516.3L127.9 516.8ZM149.8 543.5L158.9 548.9L160.5 548.1L169.5 516.6L164.9 511.1L158.2 510.5L156.7 510.9L148.4 521.9ZM174.0 494.2L191.1 491.8L197.2 481.1L195.2 478.0L181.7 470.8L159.4 479.8L159.4 481.7ZM206.3 559.3L231.6 550.3L239.7 531.2L211.5 519.3L195.9 545.8ZM315.3 841.3L348.9 842.4L353.2 821.7L345.4 814.8L316.5 808.7L309.2 820.1L313.9 840.3ZM291.4 785.1L312.3 786.0L309.4 762.8L297.0 757.8L283.8 777.5ZM326.3 744.2L368.5 735.4L366.1 728.5L353.4 697.6L349.8 694.1L344.3 693.8L334.4 697.6L319.7 733.7ZM432.7 607.0L440.9 613.3L460.6 604.4L464.2 595.4L455.1 583.8L439.9 585.4ZM469.3 815.0L498.9 824.2L508.6 803.7L501.7 799.3L488.3 794.7Z"/>
<path fill="#73c8bd" stroke="#73c8bd" d="M143.2 350.7L164.3 329.6L164.4 324.8L142.3 313.8L142.3 317.1L137.8 324.3L133.3 331.6L131.5 340.6L131.5 345.6ZM263.5 323.5L271.3 340.3L304.0 338.0L305.0 320.2L294.6 301.4L277.0 299.5L269.9 305.3ZM278.4 260.1L314.6 263.8L304.7 231.2L290.5 221.3L273.6 226.0Z"/>
<path fill="#24419a" stroke="#24419a" d="M134.5 516.3L148.4 521.9L156.7 510.9L146.1 504.7ZM299.5 707.2L305.8 731.0L319.7 733.7L334.4 697.6L317.2 695.1ZM316.5 808.7L345.4 814.8L348.4 779.3L345.2 779.0L317.4 790.9ZM383.5 604.2L407.9 608.9L412.4 605.5L414.4 581.4L395.4 569.4L379.0 591.4ZM414.4 581.4L412.4 605.5L432.7 607.0L439.9 585.4L427.5 573.9ZM442.4 632.8L476.6 631.0L476.7 630.2L460.6 604.4L440.9 613.3ZM460.6 604.4L476.7 630.2L496.1 606.9L484.7 590.5L464.2 595.4ZM541.0 528.4L564.1 536.8L582.1 521.1L576.5 493.1L574.3 491.9L555.6 501.3ZM564.1 536.8L570.4 555.9L571.6 556.4L600.8 536.2L582.1 521.1Z"/>
<path fill="#299dc1" stroke="#299dc1" d="M144.5 573.1L153.3 599.7L169.3 597.1L172.7 573.7L158.7 552.2ZM205.2 736.3L210.3 739.7L217.0 740.7L214.6 742.5L217.3 743.1L239.0 714.1L235.7 710.7L228.0 708.8L213.5 715.6ZM297.3 492.6L312.8 502.9L345.4 492.4L352.8 471.0L349.5 462.2L304.2 478.4ZM351.2 648.3L384.0 648.3L378.1 633.8L339.8 633.8L339.8 638.1ZM483.8 715.1L475.4 731.0L504.4 747.9L508.4 718.0L506.1 715.7L489.3 712.5ZM510.0 760.3L512.1 760.6L532.0 733.9L520.0 721.9L508.4 718.0L504.4 747.9Z"/>
<path fill="#80cebb" stroke="#80cebb" d="M146.3 360.8L184.2 348.5L164.3 329.6L143.2 350.7ZM374.1 212.0L390.7 232.4L404.3 234.6L410.1 211.5L408.7 207.2L403.3 205.4L398.7 201.8L400.5 196.3L406.6 194.1L399.7 191.4L374.1 203.6Z"/>
<path fill="#87d0ba" stroke="#87d0ba" d="M164.3 329.6L184.2 348.5L194.2 356.2L210.8 328.8L209.4 321.7L202.3 314.5L182.7 304.7L175.9 309.5L164.4 324.8ZM195.2 365.1L233.2 379.9L243.8 367.5L232.2 337.8L210.8 328.8L194.2 356.2ZM209.4 321.7L210.8 328.8L232.2 337.8L247.8 324.2L232.1 305.3ZM232.2 337.8L243.8 367.5L261.9 361.7L271.3 340.3L263.5 323.5L247.8 324.2ZM399.7 191.4L406.6 194.1L407.8 193.6L415.0 187.3L424.1 181.8L423.2 169.2L424.0 162.9L421.0 160.2L415.0 161.0L407.8 163.7L400.5 169.2L395.1 169.2L391.2 165.2ZM377.5 271.4L394.0 270.9L400.6 265.3L408.7 241.0L404.3 234.6L390.7 232.4L365.3 253.5Z"/>
<path fill="#2195c0" stroke="#2195c0" d="M166.0 701.5L177.5 705.6L187.0 707.0L194.8 700.3L195.5 685.4L175.7 681.0L163.8 698.4ZM192.1 723.1L206.1 709.0L203.4 704.0L194.8 700.3L187.0 707.0ZM193.2 733.6L195.8 733.3L204.9 736.1L205.2 736.3L213.5 715.6L206.1 709.0L192.1 723.1ZM239.0 714.1L250.5 718.2L250.5 673.5L242.2 673.8L235.7 710.7ZM241.1 530.1L274.7 537.3L286.2 494.0L270.8 486.4L268.2 487.0L244.1 508.8ZM258.0 721.6L274.7 702.0L272.6 677.6L267.3 671.8L250.5 673.5L250.5 718.2ZM250.7 610.9L276.2 612.2L283.0 590.3L278.0 584.5L245.3 589.2ZM323.3 655.5L344.3 693.8L349.8 694.1L353.5 687.2L351.2 648.3L339.8 638.1ZM339.8 633.8L378.1 633.8L375.1 615.1L354.2 615.9L339.2 630.1ZM349.8 694.1L353.4 697.6L393.1 693.8L398.5 682.0L395.8 664.8L387.0 657.6L353.5 687.2ZM365.0 790.5L388.1 792.5L399.9 779.7L369.3 752.8L351.3 778.7ZM387.0 657.6L395.8 664.8L418.5 661.9L427.7 641.5L409.4 630.3L385.2 649.3ZM380.5 734.4L418.9 761.0L422.1 758.4L431.7 742.2L433.2 737.7L405.7 719.3ZM422.1 758.4L446.4 774.6L457.0 767.5L431.7 742.2ZM431.7 742.2L457.0 767.5L462.0 766.9L462.0 736.6L440.7 732.9L433.2 737.7ZM474.0 774.9L481.6 774.6L487.0 768.6L471.1 734.5L462.0 736.6L462.0 766.9ZM528.3 803.3L537.7 799.5L553.1 777.4L543.8 766.7L515.3 763.1L523.4 801.3Z"/>
<path fill="#63c3bf" stroke="#63c3bf" d="M147.2 420.8L175.3 446.6L181.1 443.7L195.1 418.2L189.7 413.4L146.7 415.1Z"/>
<path fill="#78cbbc" stroke="#78cbbc" d="M150.0 378.9L184.3 376.0L195.2 365.1L194.2 356.2L184.2 348.5L146.3 360.8ZM161.4 233.6L162.1 234.7L175.8 232.6L175.1 230.7L161.4 232.8ZM164.2 265.5L181.8 271.0L190.7 235.4L176.9 237.1L162.4 238.9L161.9 239.0ZM192.6 227.6L188.3 227.5L188.7 229.3L192.2 229.3ZM177.6 231.5L187.1 230.0L186.0 228.2L176.6 230.0ZM183.5 272.5L203.7 270.4L206.5 264.5L205.0 263.3L204.1 257.9L210.4 255.2L210.4 248.9L205.9 241.6L202.3 237.1L191.4 235.3L190.7 235.4L181.8 271.0ZM192.2 229.3L196.5 229.3L196.8 227.7L192.6 227.6ZM208.6 236.5L212.8 236.2L213.5 234.0L208.1 235.1ZM196.9 655.1L197.8 656.0L221.3 652.0L226.6 627.1L189.6 638.9ZM220.1 278.9L232.7 280.7L245.0 266.9L243.7 261.8L238.5 263.3L234.9 261.5L229.4 254.3L225.8 247.9L220.4 247.9L217.7 251.6L216.8 256.1L220.4 261.5L219.5 269.7L215.0 271.5L209.5 267.0L206.5 264.5L203.7 270.4ZM236.4 234.3L234.9 238.0L236.7 247.0L240.2 248.9ZM206.7 676.6L215.7 679.0L235.9 671.6L221.3 652.0L197.8 656.0ZM234.9 396.5L256.6 413.7L269.9 410.0L280.8 375.5L261.9 361.7L243.8 367.5L233.2 379.9ZM269.4 269.1L278.4 260.1L273.6 226.0L265.1 222.2L263.9 222.6L254.8 221.7L249.4 218.1L245.7 216.3L240.3 219.9L238.5 228.9L236.4 234.3L240.2 248.9L240.3 248.9L245.7 250.7L246.6 256.1L244.8 261.5L243.7 261.8L245.0 266.9ZM304.7 231.2L333.8 218.5L333.8 216.5L315.6 184.9L310.1 182.1L290.5 221.3ZM319.7 267.5L347.9 244.8L333.8 218.5L304.7 231.2L314.6 263.8ZM333.8 216.5L365.4 198.8L354.2 179.4L315.6 184.9ZM458.5 512.7L472.3 530.1L480.7 536.4L501.2 527.1L508.5 514.8L500.0 501.1L459.5 502.6L458.1 511.7ZM589.4 445.4L611.1 470.7L633.0 439.7L601.1 432.6Z"/>
<path fill="#1e2e85" stroke="#1e2e85" d="M169.5 516.6L183.4 519.0L194.7 506.8L191.1 491.8L174.0 494.2L164.9 511.1ZM160.5 548.1L190.7 543.8L183.4 519.0L169.5 516.6ZM531.4 830.5L553.0 842.1L553.4 842.0L552.5 840.6L546.5 834.6L544.6 828.7L548.5 822.7L554.5 818.8L562.3 814.8L537.7 799.5L528.3 803.3Z"/>
<path fill="#67c4be" stroke="#67c4be" d="M181.1 443.7L196.5 455.6L219.5 444.1L207.8 419.7L195.1 418.2Z"/>
<path fill="#0a1e5c" stroke="#0a1e5c" d="M216.2 820.8L212.8 809.6L175.8 811.4L173.5 815.9L170.8 823.1L170.3 825.3L206.7 843.5ZM214.5 803.3L250.6 796.9L255.4 790.2L255.4 786.6L251.3 779.4L228.4 771.8L210.8 785.4ZM212.8 809.6L216.2 820.8L244.5 826.7L249.4 823.0L250.6 796.9L214.5 803.3Z"/>
<path fill="#0c2060" stroke="#0c2060" d="M206.7 843.5L207.8 852.4L239.3 859.0L241.2 857.8L241.4 858.0L244.5 853.4L244.5 826.7L216.2 820.8ZM435.7 874.1L410.2 876.4L402.4 884.9L407.8 886.2L409.7 890.2L415.7 896.1L423.6 898.1L431.5 896.1L439.5 892.1L447.4 888.2L449.0 887.4ZM410.2 876.4L435.7 874.1L437.0 859.8L421.5 845.5L410.2 848.6ZM437.0 859.8L435.7 874.1L449.0 887.4L455.3 884.2L461.9 880.9L457.5 846.1ZM457.5 846.1L461.9 880.9L463.3 880.2L469.2 876.3L479.1 874.3L487.1 874.3L491.0 875.3L483.3 849.2L461.4 838.3ZM550.4 733.9L543.8 766.7L553.1 777.4L568.7 777.4L575.3 768.6L576.1 756.2L551.4 733.3ZM551.4 733.3L576.1 756.2L594.5 737.8L590.2 733.5L582.2 727.6L574.3 723.6L568.3 717.7L565.9 714.5L559.7 718.2ZM576.1 756.2L575.3 768.6L621.4 771.0L620.9 767.2L621.9 759.3L617.9 753.4L612.0 747.4L604.0 741.5L596.1 739.5L594.5 737.8Z"/>
<path fill="#21318d" stroke="#21318d" d="M195.9 545.8L211.5 519.3L210.2 515.8L194.7 506.8L183.4 519.0L190.7 543.8ZM392.0 824.4L414.1 815.3L418.3 809.4L400.0 779.6L399.9 779.7L388.1 792.5L389.2 820.9Z"/>
<path fill="#3cb1c3" stroke="#3cb1c3" d="M175.7 681.0L195.5 685.4L206.7 676.6L197.8 656.0L196.9 655.1L174.5 675.1ZM193.7 600.0L219.6 609.4L231.9 589.3L206.4 571.3ZM389.0 490.8L398.4 495.1L418.6 480.1L417.7 466.1L396.3 450.0L396.1 450.2L382.4 480.1ZM539.2 529.2L541.0 528.4L555.6 501.3L534.2 492.2L517.0 515.9Z"/>
<path fill="#0d2161" stroke="#0d2161" d="M210.8 785.4L228.4 771.8L226.7 750.6L217.3 743.1L214.6 742.5L213.4 743.5L209.8 748.9L208.0 754.3L202.5 758.0L197.1 761.6L195.3 765.2L191.7 770.6L189.1 772.7ZM337.7 882.8L335.5 883.9L336.6 884.2L341.1 885.1L343.9 888.7L347.5 891.4L350.2 895.9L351.1 898.6L353.8 901.3L358.3 899.5L360.1 901.3L358.3 906.7L357.4 910.4L363.7 908.6L369.2 904.0L374.6 899.5L376.4 895.0ZM282.9 871.7L287.5 871.9L296.9 872.7L304.1 873.4L302.3 872.4L307.7 873.3L309.5 876.0L311.3 878.7L315.8 880.5L320.4 882.3L322.3 883.1L315.3 841.3L313.9 840.3L284.3 856.3ZM366.9 854.9L377.1 865.5L407.7 847.2L392.1 826.7ZM385.0 883.7L389.9 884.2L399.8 884.2L402.4 884.9L410.2 876.4L410.2 848.6L407.7 847.2L377.1 865.5ZM514.8 839.8L501.9 834.7L483.3 849.2L491.0 875.3L495.0 876.3L502.9 876.3L506.9 872.3L514.8 870.3L517.5 871.0ZM553.0 842.1L530.5 874.2L530.7 874.3L538.6 872.3L544.6 876.3L546.5 882.2L552.5 886.2L558.4 890.2L562.4 890.2L566.4 884.2L569.3 878.3L568.3 870.3L562.4 866.4L558.4 862.4L562.4 856.4L560.4 850.5L556.4 846.5L553.4 842.0ZM517.5 871.0L522.7 872.3L530.5 874.2L553.0 842.1L531.4 830.5L514.8 839.8ZM575.3 768.6L568.7 777.4L584.4 806.8L590.2 802.9L592.1 795.0L594.1 785.1L596.1 781.1L602.0 783.1L610.0 785.1L615.9 787.1L619.9 781.1L621.9 775.2L621.4 771.0Z"/>
<path fill="#3eb3c4" stroke="#3eb3c4" d="M186.5 636.9L189.6 638.9L226.6 627.1L227.0 626.8L219.6 609.4L193.7 600.0L185.5 604.2ZM253.7 439.0L268.7 452.1L298.2 439.3L281.4 413.4L269.9 410.0L256.6 413.7Z"/>
<path fill="#234fa1" stroke="#234fa1" d="M191.1 491.8L194.7 506.8L210.2 515.8L223.8 496.8L218.8 479.8L197.2 481.1Z"/>
<path fill="#1d90c0" stroke="#1d90c0" d="M197.2 481.1L218.8 479.8L228.0 470.2L228.5 451.2L219.5 444.1L196.5 455.6L195.2 478.0ZM399.9 779.7L400.0 779.6L413.7 770.7L418.9 761.0L380.5 734.4L369.3 736.1L369.3 752.8Z"/>
<path fill="#85cfba" stroke="#85cfba" d="M182.7 304.7L202.3 314.5L220.1 278.9L203.7 270.4L183.5 272.5ZM209.4 321.7L232.1 305.3L236.3 292.2L232.7 280.7L220.1 278.9L202.3 314.5ZM236.3 292.2L269.9 305.3L277.0 299.5L269.4 269.1L245.0 266.9L232.7 280.7ZM342.8 390.2L355.5 405.1L375.3 400.1L373.9 376.5L367.1 367.0L345.5 374.2ZM350.8 245.0L365.3 253.5L390.7 232.4L374.1 212.0ZM508.5 514.8L517.0 515.9L534.2 492.2L519.2 466.4L515.7 464.9L510.2 466.8L500.0 501.1Z"/>
<path fill="#23499e" stroke="#23499e" d="M210.2 515.8L211.5 519.3L239.7 531.2L241.1 530.1L244.1 508.8L223.8 496.8ZM434.6 793.2L427.2 806.5L449.7 827.1L458.0 827.9L464.1 816.8L454.8 795.6L446.4 791.2ZM438.4 639.1L455.3 665.1L463.8 667.8L476.1 663.0L483.2 652.6L483.2 646.3L476.6 631.0L442.4 632.8Z"/>
<path fill="#2354a3" stroke="#2354a3" d="M223.8 496.8L244.1 508.8L268.2 487.0L228.0 470.2L218.8 479.8ZM361.7 817.1L389.2 820.9L388.1 792.5L365.0 790.5ZM427.5 573.9L439.9 585.4L455.1 583.8L458.9 563.8L450.0 556.9L444.6 554.6L432.8 555.0ZM476.6 631.0L483.2 646.3L512.6 629.6L509.9 627.6L504.5 620.3L500.0 609.4L498.7 607.4L496.1 606.9L476.7 630.2ZM501.1 607.8L506.3 611.3L509.9 614.9L512.6 617.6L513.5 611.3L514.2 609.9Z"/>
<path fill="#253494" stroke="#253494" d="M249.4 823.0L272.3 827.0L283.0 815.8L279.3 806.2L255.4 790.2L250.6 796.9Z"/>
<path fill="#243c98" stroke="#243c98" d="M244.5 826.7L244.5 853.4L274.6 846.7L272.3 827.0L249.4 823.0ZM256.1 764.2L268.4 752.8L264.5 732.9L259.3 727.0L239.1 747.2ZM279.3 806.2L283.0 815.8L309.2 820.1L316.5 808.7L317.4 790.9L312.3 786.0L291.4 785.1ZM297.0 757.8L309.4 762.8L325.6 747.6L326.3 744.2L319.7 733.7L305.8 731.0L295.0 735.9L293.2 753.3ZM428.6 835.2L449.7 827.1L427.2 806.5L418.3 809.4L414.1 815.3ZM501.9 834.7L514.8 839.8L531.4 830.5L528.3 803.3L523.4 801.3L508.6 803.7L498.9 824.2Z"/>
<path fill="#7ecdbb" stroke="#7ecdbb" d="M247.8 324.2L263.5 323.5L269.9 305.3L236.3 292.2L232.1 305.3ZM261.9 361.7L280.8 375.5L300.3 375.5L317.0 353.5L304.0 338.0L271.3 340.3ZM564.3 463.4L574.3 491.9L576.5 493.1L611.1 487.9L611.1 470.7L589.4 445.4L569.1 451.0Z"/>
<path fill="#1d91c0" stroke="#1d91c0" d="M228.0 470.2L268.2 487.0L270.8 486.4L268.7 452.1L253.7 439.0L228.5 451.2ZM464.2 595.4L484.7 590.5L489.5 575.0L478.8 560.7L458.9 563.8L455.1 583.8Z"/>
<path fill="#0e2265" stroke="#0e2265" d="M251.3 779.4L256.1 764.2L239.1 747.2L226.7 750.6L228.4 771.8ZM274.6 846.7L284.3 856.3L313.9 840.3L309.2 820.1L283.0 815.8L272.3 827.0ZM322.3 883.1L324.9 884.2L325.8 881.4L328.5 879.6L330.3 881.4L333.0 883.3L335.5 883.9L337.7 882.8L357.1 853.1L348.9 842.4L315.3 841.3ZM377.1 865.5L366.9 854.9L357.1 853.1L337.7 882.8L376.4 895.0L378.2 890.5L380.0 883.2L385.0 883.7ZM392.1 826.7L407.7 847.2L410.2 848.6L421.5 845.5L428.6 835.2L414.1 815.3L392.0 824.4ZM421.5 845.5L437.0 859.8L457.5 846.1L461.4 838.3L458.0 827.9L449.7 827.1L428.6 835.2Z"/>
<path fill="#2258a5" stroke="#2258a5" d="M259.3 727.0L264.5 732.9L291.7 734.4L284.6 705.9L274.7 702.0L258.0 721.6ZM295.0 735.9L305.8 731.0L299.5 707.2L284.6 705.9L291.7 734.4ZM375.3 447.5L396.1 450.2L396.3 450.0L398.0 445.1L393.4 426.5L375.5 424.3L375.3 424.4ZM537.7 799.5L562.3 814.8L562.4 814.8L570.3 810.8L576.3 808.9L584.2 806.9L584.4 806.8L568.7 777.4L553.1 777.4Z"/>
<path fill="#152772" stroke="#152772" d="M284.3 856.3L274.6 846.7L244.5 853.4L241.4 858.0L244.8 861.8L247.0 858.9L252.8 864.0L252.1 867.6L257.1 868.3L257.8 865.4L261.5 867.6L264.4 873.4L268.7 872.7L272.3 870.1L279.5 871.6L282.9 871.7ZM512.1 705.5L534.4 696.5L534.4 683.3L531.7 680.1L528.0 672.8L526.1 670.5L512.1 682.3ZM508.4 718.0L520.0 721.9L538.1 703.8L534.4 696.5L512.1 705.5L506.1 715.7ZM534.4 696.5L538.1 703.8L559.7 718.2L565.9 714.5L562.4 709.7L554.5 703.8L546.5 701.8L542.6 695.9L536.6 691.9L536.6 685.9L534.4 683.3ZM532.0 733.9L550.4 733.9L551.4 733.3L559.7 718.2L538.1 703.8L520.0 721.9Z"/>
<path fill="#46b8c3" stroke="#46b8c3" d="M306.4 176.2L304.2 166.8L296.4 161.8L273.8 163.4L258.6 175.6L259.3 181.8L259.3 187.3L264.8 190.9L268.1 194.2ZM273.6 226.0L290.5 221.3L310.1 182.1L306.4 176.2L268.1 194.2L270.2 196.3L269.3 200.0L261.1 200.0L259.3 201.8L263.9 209.0L269.3 214.4L272.0 219.9L265.1 222.2ZM481.7 550.5L512.1 550.5L501.2 527.1L480.7 536.4ZM501.2 527.1L512.1 550.5L514.9 552.9L535.8 539.7L539.2 529.2L517.0 515.9L508.5 514.8ZM478.8 560.7L489.5 575.0L513.6 570.5L514.9 552.9L512.1 550.5L481.7 550.5Z"/>
<path fill="#1e85ba" stroke="#1e85ba" d="M274.9 559.6L278.0 584.5L283.0 590.3L310.7 590.3L312.1 554.7L308.4 548.4L280.4 547.6ZM396.3 450.0L417.7 466.1L435.5 452.2L441.1 429.7L435.6 427.4L398.0 445.1ZM506.1 715.7L512.1 705.5L512.1 682.3L491.9 685.5L491.7 686.2L489.3 712.5Z"/>
<path fill="#57bec1" stroke="#57bec1" d="M282.1 129.7L291.5 121.8L294.2 110.4L291.0 111.2L289.2 107.6L278.3 104.0L271.1 102.2L268.1 101.6Z"/>
<path fill="#225aa6" stroke="#225aa6" d="M284.6 705.9L299.5 707.2L317.2 695.1L299.9 675.6L272.6 677.6L274.7 702.0Z"/>
<path fill="#6dc6be" stroke="#6dc6be" d="M294.6 301.4L305.0 320.2L345.2 306.0L345.5 300.5L320.3 273.4ZM320.3 273.4L345.5 300.5L369.9 284.8L377.5 271.4L365.3 253.5L350.8 245.0L347.9 244.8L319.7 267.5ZM381.1 532.0L403.2 519.1L405.0 516.5L398.4 495.1L389.0 490.8L361.6 512.7ZM373.9 376.5L392.3 381.8L409.3 347.8L406.8 342.7L380.2 343.8L367.1 367.0ZM392.3 381.8L399.8 393.6L425.8 379.9L429.7 373.8L409.3 347.8ZM405.0 516.5L411.0 517.1L441.0 490.8L418.6 480.1L398.4 495.1ZM425.8 523.8L456.6 512.5L458.1 511.7L459.5 502.6L455.3 493.0L441.0 490.8L411.0 517.1Z"/>
<path fill="#172978" stroke="#172978" d="M312.3 786.0L317.4 790.9L345.2 779.0L325.6 747.6L309.4 762.8Z"/>
<path fill="#216daf" stroke="#216daf" d="M317.0 595.2L345.0 585.0L351.9 577.3L351.9 565.2L312.1 554.7L310.7 590.3Z"/>
<path fill="#9ed9b8" stroke="#9ed9b8" d="M533.2 186.7L553.0 204.3L575.6 174.1L572.4 172.5L570.6 170.2L574.7 173.4L575.9 173.8L602.8 137.9L597.9 138.5L589.3 136.4L590.2 131.2L593.6 128.6L593.2 125.6L581.6 126.9L577.2 130.3L568.6 136.4L566.9 145.0L563.9 152.8L564.3 155.4L563.4 153.5L556.1 154.4L547.1 154.4L536.2 153.5L529.0 151.7L527.3 149.2L523.7 156.5L519.8 161.7ZM567.9 164.3L569.5 166.6L570.3 169.8L568.8 168.0ZM407.0 307.0L411.2 335.6L451.1 323.1L452.7 292.5L440.4 287.0L409.7 299.8ZM425.8 379.9L425.8 416.8L435.6 427.4L441.1 429.7L443.1 429.1L462.1 383.7L460.3 375.2L429.7 373.8ZM454.5 326.4L508.0 328.5L505.9 272.1L490.2 271.9L452.7 292.5L451.1 323.1ZM508.7 329.9L544.4 341.5L572.8 294.1L508.5 270.0L505.9 272.1L508.0 328.5ZM516.6 247.4L554.0 214.0L553.0 204.3L533.2 186.7L478.8 202.7ZM525.9 421.7L556.7 426.9L574.2 401.9L566.7 371.9L561.2 375.5L519.2 412.2ZM508.5 270.0L572.8 294.1L592.9 288.9L601.4 262.1L591.9 237.2L554.0 214.0L516.6 247.4ZM575.9 173.8L581.6 175.6L585.9 173.9L592.8 169.1L598.8 164.8L604.8 164.0L609.6 166.6L610.9 171.7L614.3 172.6L615.2 168.3L613.4 161.4L608.3 157.9L603.5 154.5L604.8 149.3L610.9 145.0L611.3 139.8L608.3 137.2L602.8 137.9ZM553.0 204.3L554.0 214.0L591.9 237.2L632.5 196.5L626.8 195.1L621.3 189.7L619.5 184.2L613.2 185.2L608.7 187.9L601.4 189.7L596.9 194.2L594.2 191.5L590.5 186.1L586.9 178.8L581.5 177.0L575.6 174.1ZM591.9 237.2L601.4 262.1L657.4 257.1L655.7 247.6L653.0 236.8L653.9 233.1L651.2 231.3L649.4 235.0L643.1 233.1L634.0 229.5L626.8 225.9L623.1 222.3L626.8 221.4L630.4 219.6L637.6 218.7L644.9 218.7L650.3 219.6L650.3 212.3L641.3 202.4L634.0 196.9L632.5 196.5Z"/>
<path fill="#7acbbc" stroke="#7acbbc" d="M333.8 218.5L347.9 244.8L350.8 245.0L374.1 212.0L374.1 203.6L365.4 198.8L333.8 216.5ZM365.4 198.8L374.1 203.6L399.7 191.4L391.2 165.2L387.9 161.9L378.8 158.3L369.8 154.7L364.5 155.6L354.2 179.4Z"/>
<path fill="#102369" stroke="#102369" d="M325.6 747.6L345.2 779.0L348.4 779.3L351.3 778.7L369.3 752.8L369.3 736.1L368.5 735.4L326.3 744.2Z"/>
<path fill="#0f2367" stroke="#0f2367" d="M357.1 853.1L366.9 854.9L392.1 826.7L392.0 824.4L389.2 820.9L361.7 817.1L353.2 821.7L348.9 842.4Z"/>
<path fill="#97d6b9" stroke="#97d6b9" d="M424.0 162.9L424.1 161.9L421.4 160.1L421.0 160.2ZM437.7 151.1L433.1 144.7L424.1 142.9L420.5 144.7L417.8 151.1L420.5 154.7L425.9 154.7L431.3 157.4L439.5 158.3ZM476.1 462.5L491.1 460.6L488.7 418.1L456.3 433.5ZM488.7 418.1L491.1 460.6L510.2 466.8L515.7 464.9L525.9 421.7L519.2 412.2L514.8 409.6L491.3 414.5ZM519.2 466.4L564.3 463.4L569.1 451.0L556.7 426.9L525.9 421.7L515.7 464.9ZM601.1 432.6L633.0 439.7L638.8 438.1L642.3 432.3L632.8 389.6L630.5 388.6L596.8 412.0Z"/>
<path fill="#4ab9c3" stroke="#4ab9c3" d="M378.0 548.4L394.0 560.4L411.4 549.9L403.2 519.1L381.1 532.0ZM411.4 549.9L430.1 552.3L430.1 547.8L425.8 523.8L411.0 517.1L405.0 516.5L403.2 519.1Z"/>
<path fill="#36abc3" stroke="#36abc3" d="M395.8 698.8L405.7 712.5L416.4 697.8L416.5 697.5L407.9 684.7L398.5 682.0L393.1 693.8ZM405.7 712.5L405.8 713.3L434.3 703.8L416.4 697.8ZM416.5 697.5L429.8 681.9L429.6 680.3L407.9 684.7ZM395.8 664.8L398.5 682.0L407.9 684.7L429.6 680.3L430.7 675.7L418.5 661.9ZM416.5 697.5L416.4 697.8L434.3 703.8L442.7 703.8L429.8 681.9ZM405.8 713.3L405.7 719.3L433.2 737.7L440.7 732.9L443.6 704.4L442.7 703.8L434.3 703.8ZM582.1 521.1L600.8 536.2L601.3 536.3L618.7 492.7L611.1 487.9L576.5 493.1ZM602.3 537.2L638.6 526.5L623.9 495.8L619.5 492.8L618.7 492.7L601.3 536.3Z"/>
<path fill="#9cd8b8" stroke="#9cd8b8" d="M400.6 265.3L432.9 272.4L436.0 254.4L431.3 241.9L408.7 241.0ZM394.0 270.9L409.7 299.8L440.4 287.0L432.9 272.4L400.6 265.3ZM425.6 212.5L446.5 212.5L442.2 209.0L436.8 209.9L433.1 204.5L427.7 202.7L418.7 204.5L418.3 204.7ZM462.0 212.5L470.1 198.1L465.9 187.3L465.7 187.3L460.3 196.3L456.7 200.0L453.1 205.4L451.3 210.8L448.9 212.5ZM408.7 241.0L431.3 241.9L438.4 233.3L425.6 212.5L418.3 204.7L411.0 207.9L410.8 208.7L414.1 214.4L410.5 212.6L410.1 211.5L404.3 234.6ZM438.4 233.3L455.7 226.9L462.0 212.5L448.9 212.5L447.6 213.5L446.5 212.5L425.6 212.5ZM440.4 287.0L452.7 292.5L490.2 271.9L473.6 257.2L436.0 254.4L432.9 272.4ZM436.0 254.4L473.6 257.2L455.7 226.9L438.4 233.3L431.3 241.9ZM455.7 226.9L473.6 257.2L490.2 271.9L505.9 272.1L508.5 270.0L516.6 247.4L478.8 202.7L470.1 198.1L462.0 212.5ZM435.5 452.2L458.8 481.9L476.1 462.5L456.3 433.5L443.1 429.1L441.1 429.7ZM642.3 432.3L686.3 425.7L686.5 425.0L689.2 419.5L687.6 416.3L645.3 386.1L632.8 389.6Z"/>
<path fill="#a0dab8" stroke="#a0dab8" d="M409.3 347.8L429.7 373.8L460.3 375.2L461.3 374.0L454.5 326.4L451.1 323.1L411.2 335.6L406.8 342.7ZM461.3 374.0L493.6 362.5L508.7 329.9L508.0 328.5L454.5 326.4ZM549.3 349.3L567.7 367.7L585.0 361.5L598.8 313.2L597.9 295.9L592.9 288.9L572.8 294.1L544.4 341.5ZM566.7 371.9L574.2 401.9L596.8 412.0L630.5 388.6L617.5 369.2L585.0 361.5L567.7 367.7ZM597.9 295.9L654.7 315.4L655.7 314.6L661.2 305.6L663.0 294.7L666.6 286.6L663.9 280.2L661.2 269.4L657.6 258.5L657.4 257.1L601.4 262.1L592.9 288.9Z"/>
<path fill="#2262aa" stroke="#2262aa" d="M429.8 681.9L442.7 703.8L443.6 704.4L459.4 696.2L463.8 667.8L455.3 665.1L430.7 675.7L429.6 680.3Z"/>
<path fill="#90d4b9" stroke="#90d4b9" d="M455.3 493.0L459.5 502.6L500.0 501.1L510.2 466.8L491.1 460.6L476.1 462.5L458.8 481.9Z"/>
<path fill="#b2e1b6" stroke="#b2e1b6" d="M443.1 429.1L456.3 433.5L488.7 418.1L491.3 414.5L462.1 383.7Z"/>
<path fill="#a7dcb7" stroke="#a7dcb7" d="M460.3 375.2L462.1 383.7L491.3 414.5L514.8 409.6L510.9 383.1L493.6 362.5L461.3 374.0Z"/>
<path fill="#182a7a" stroke="#182a7a" d="M461.4 838.3L483.3 849.2L501.9 834.7L498.9 824.2L469.3 815.0L464.1 816.8L458.0 827.9Z"/>
<path fill="#a5dcb7" stroke="#a5dcb7" d="M470.1 198.1L478.8 202.7L533.2 186.7L519.8 161.7L518.3 163.7L516.4 171.0L509.2 173.7L502.0 178.2L498.3 182.8L491.1 183.7L482.0 186.4L473.0 186.4L465.9 187.3ZM630.5 388.6L632.8 389.6L645.3 386.1L678.9 359.7L678.3 358.0L671.1 352.5L663.9 347.1L656.6 341.7L649.4 336.2L646.6 334.8L628.0 348.2L617.5 369.2ZM645.3 386.1L687.6 416.3L687.4 415.9L684.7 408.7L685.6 403.2L684.7 397.8L678.3 394.2L674.7 385.1L674.7 377.9L678.3 372.4L678.3 368.8L680.1 363.4L678.9 359.7Z"/>
<path fill="#2498c1" stroke="#2498c1" d="M471.1 734.5L487.0 768.6L508.1 761.3L510.0 760.3L504.4 747.9L475.4 731.0Z"/>
<path fill="#aedfb6" stroke="#aedfb6" d="M493.6 362.5L510.9 383.1L512.0 382.5L549.3 349.3L544.4 341.5L508.7 329.9ZM510.9 383.1L514.8 409.6L519.2 412.2L561.2 375.5L512.0 382.5ZM512.0 382.5L561.2 375.5L566.7 371.9L567.7 367.7L549.3 349.3ZM598.8 313.2L628.0 348.2L646.6 334.8L643.9 333.5L645.7 329.0L644.8 323.5L654.7 315.4L597.9 295.9ZM617.5 369.2L628.0 348.2L598.8 313.2L585.0 361.5Z"/>
<path fill="#2165ab" stroke="#2165ab" d="M484.7 590.5L496.1 606.9L498.7 607.4L497.2 604.9L500.9 607.6L501.1 607.8L514.2 609.9L517.2 604.0L520.8 598.6L526.2 595.0L533.5 594.0L537.6 593.3L537.0 591.1L513.6 570.5L489.5 575.0Z"/>
<path fill="#24459c" stroke="#24459c" d="M515.3 763.1L543.8 766.7L550.4 733.9L532.0 733.9L512.1 760.6ZM537.6 593.3L538.9 593.1L544.3 590.4L551.6 591.3L558.8 593.1L562.4 587.7L566.1 584.1L575.1 583.2L578.7 578.7L582.4 575.0L584.1 573.9L571.6 556.4L570.4 555.9L548.0 565.5L537.0 591.1ZM602.3 537.2L601.3 536.3L600.8 536.2L571.6 556.4L584.1 573.9L587.8 571.4L593.2 571.4L598.7 567.8L602.3 562.4L609.5 560.5L611.4 560.3Z"/>
<path fill="#2072b1" stroke="#2072b1" d="M535.8 539.7L548.0 565.5L570.4 555.9L564.1 536.8L541.0 528.4L539.2 529.2Z"/>
<path fill="#95d5b9" stroke="#95d5b9" d="M569.1 451.0L589.4 445.4L601.1 432.6L596.8 412.0L574.2 401.9L556.7 426.9Z"/>
<path fill="#2ca1c2" stroke="#2ca1c2" d="M662.3 538.6L658.4 537.0L653.9 531.6L656.6 528.0L663.9 529.8L665.7 529.4L666.3 527.6L663.8 492.2L623.9 495.8L638.6 526.5L661.0 541.9Z"/>
</g>
<path d="M59.1 560.1L74.6 548.8L77.6 538.8L55.8 535.4M80.0 649.4L97.6 637.1L100.1 626.6L86.4 603.7L77.5 605.2M74.6 548.8L59.1 560.1M68.6 572.6L84.3 574.3L84.9 573.4L74.6 548.8M55.8 535.4L77.6 538.8L84.5 534.2L72.4 513.7L61.1 505.6M61.1 505.6L72.4 513.7L91.3 504.3L78.9 483.1L70.2 480.1L69.8 480.2M69.8 480.2L70.2 480.1L99.6 442.7L96.6 436.0M77.5 605.2L86.4 603.7L87.4 601.7L84.3 574.3L68.6 572.6M84.9 573.4L84.3 574.3L87.4 601.7L117.1 589.0L119.1 570.6L116.5 566.1L103.3 562.0L84.9 573.4M72.4 513.7L84.5 534.2L93.2 534.2L97.3 530.8L97.3 507.5L91.3 504.3L72.4 513.7M77.6 538.8L74.6 548.8L84.9 573.4L103.3 562.0L93.2 534.2L84.5 534.2L77.6 538.8M130.8 399.1L134.6 399.2L150.0 378.9L146.3 360.8L143.2 350.7L131.5 345.6M97.6 637.1L80.0 649.4M89.2 661.4L111.6 672.6L115.7 672.2L122.6 662.1L97.6 637.1M70.2 480.1L78.9 483.1L89.9 482.1L104.6 470.1L110.5 452.4L99.6 442.7L70.2 480.1M91.3 504.3L97.3 507.5L104.3 502.4L110.0 496.3L109.3 494.4L89.9 482.1L78.9 483.1L91.3 504.3M97.3 507.5L97.3 530.8L102.7 530.2L116.0 520.0L104.3 502.4L97.3 507.5M110.5 452.4L112.9 453.0L122.6 453.3L139.2 445.7L147.2 420.8L146.7 415.1L134.6 399.2L130.8 399.1M96.6 436.0L99.6 442.7L110.5 452.4M112.9 453.0L110.5 452.4L104.6 470.1L111.9 483.2L120.3 478.9L112.9 453.0M200.5 880.6L200.5 862.8L166.3 857.2M80.8 685.8L111.6 672.6L89.2 661.4M95.1 697.7L117.4 686.5L115.7 672.2L111.6 672.6L80.8 685.8M87.4 601.7L86.4 603.7L100.1 626.6L121.6 621.0L132.8 604.6L117.1 589.0L87.4 601.7M122.6 662.1L115.7 672.2L117.4 686.5L122.0 694.0L148.0 688.0L147.3 683.9L129.9 660.1L122.6 662.1M97.3 530.8L93.2 534.2L103.3 562.0L116.5 566.1L129.9 543.8L102.7 530.2L97.3 530.8M89.9 482.1L109.3 494.4L111.9 483.2L104.6 470.1L89.9 482.1M110.0 720.8L122.0 704.8L122.0 694.0L117.4 686.5L95.1 697.7M109.3 494.4L110.0 496.3L123.3 500.0L123.3 479.8L120.3 478.9L111.9 483.2L109.3 494.4M110.0 496.3L104.3 502.4L116.0 520.0L126.0 515.3L123.9 500.4L123.3 500.0L110.0 496.3M126.0 515.3L116.0 520.0L102.7 530.2L129.9 543.8L133.0 542.3L127.9 516.8L126.0 515.3M100.1 626.6L97.6 637.1L122.6 662.1L129.9 660.1L142.9 647.6L121.6 621.0L100.1 626.6M116.5 566.1L119.1 570.6L144.5 573.1L158.7 552.2L158.9 548.9L149.8 543.5L133.0 542.3L129.9 543.8L116.5 566.1M119.1 570.6L117.1 589.0L132.8 604.6L150.2 602.5L153.3 599.7L144.5 573.1L119.1 570.6M123.3 479.8L123.3 500.0L123.9 500.4L138.3 493.2L135.0 481.7L130.5 477.6L123.3 479.8M123.9 500.4L126.0 515.3L127.9 516.8L134.5 516.3L146.1 504.7L139.5 493.5L138.3 493.2L123.9 500.4M123.3 479.8L130.5 477.6L130.5 467.9L122.6 453.3L112.9 453.0L120.3 478.9L123.3 479.8M139.2 445.7L122.6 453.3L130.5 467.9L148.4 470.5L154.4 468.6L155.3 460.8L139.2 445.7M142.6 291.2L144.0 290.4L160.7 266.4L134.0 256.5M132.8 256.1L131.9 255.7M112.6 248.6L109.7 247.6M132.8 604.6L121.6 621.0L142.9 647.6L155.7 644.2L150.2 602.5L132.8 604.6M130.5 467.9L130.5 477.6L135.0 481.7L148.4 470.5L130.5 467.9M122.0 704.8L110.0 720.8M143.0 724.8L142.2 710.2L122.0 704.8M142.2 710.2L143.0 724.8M163.3 725.4L166.0 701.5L163.8 698.4L155.5 696.8L142.2 710.2M122.0 694.0L122.0 704.8L142.2 710.2L155.5 696.8L148.0 688.0L122.0 694.0M142.9 647.6L129.9 660.1L147.3 683.9L164.5 664.4L158.6 645.1L155.7 644.2L142.9 647.6M144.0 290.4L142.6 291.2M142.3 313.8L164.4 324.8L175.9 309.5L144.0 290.4M127.9 516.8L133.0 542.3L149.8 543.5L148.4 521.9L134.5 516.3L127.9 516.8M148.4 470.5L135.0 481.7L138.3 493.2L139.5 493.5L154.8 486.4L159.4 481.7L159.4 479.8L154.4 468.6L148.4 470.5M147.2 420.8L139.2 445.7L155.3 460.8L171.9 452.5L175.3 446.6L147.2 420.8M131.5 345.6L143.2 350.7L164.3 329.6L164.4 324.8L142.3 313.8M146.1 504.7L134.5 516.3L148.4 521.9L156.7 510.9L146.1 504.7M158.7 552.2L144.5 573.1L153.3 599.7L169.3 597.1L172.7 573.7L158.7 552.2M148.4 521.9L149.8 543.5L158.9 548.9L160.5 548.1L169.5 516.6L164.9 511.1L158.2 510.5L156.7 510.9L148.4 521.9M143.2 350.7L146.3 360.8L184.2 348.5L164.3 329.6L143.2 350.7M134.6 399.2L146.7 415.1L189.7 413.4L184.3 376.0L150.0 378.9L134.6 399.2M146.1 504.7L156.7 510.9L158.2 510.5L154.8 486.4L139.5 493.5L146.1 504.7M155.3 460.8L154.4 468.6L159.4 479.8L181.7 470.8L171.9 452.5L155.3 460.8M109.7 247.6L112.6 248.6M131.9 255.7L132.8 256.1M134.0 256.5L160.7 266.4L164.2 265.5L161.9 239.0M161.4 233.6L161.4 232.8M260.3 134.9L260.9 133.9L249.4 118.5M227.5 89.4L225.7 87.0M147.3 683.9L148.0 688.0L155.5 696.8L163.8 698.4L175.7 681.0L174.5 675.1L164.5 664.4L147.3 683.9M159.4 481.7L154.8 486.4L158.2 510.5L164.9 511.1L174.0 494.2L159.4 481.7M164.4 324.8L164.3 329.6L184.2 348.5L194.2 356.2L210.8 328.8L209.4 321.7L202.3 314.5L182.7 304.7L175.9 309.5L164.4 324.8M160.7 266.4L144.0 290.4L175.9 309.5L182.7 304.7L183.5 272.5L181.8 271.0L164.2 265.5L160.7 266.4M166.3 857.2L200.5 862.8L207.8 852.4L206.7 843.5L170.3 825.3M163.8 698.4L166.0 701.5L177.5 705.6L187.0 707.0L194.8 700.3L195.5 685.4L175.7 681.0L163.8 698.4M153.3 599.7L150.2 602.5L155.7 644.2L158.6 645.1L186.5 636.9L185.5 604.2L169.3 597.1L153.3 599.7M160.5 548.1L158.9 548.9L158.7 552.2L172.7 573.7L205.3 564.4L206.3 559.3L195.9 545.8L190.7 543.8L160.5 548.1M146.7 415.1L147.2 420.8L175.3 446.6L181.1 443.7L195.1 418.2L189.7 413.4L146.7 415.1M159.4 481.7L174.0 494.2L191.1 491.8L197.2 481.1L195.2 478.0L181.7 470.8L159.4 479.8L159.4 481.7M146.3 360.8L150.0 378.9L184.3 376.0L195.2 365.1L194.2 356.2L184.2 348.5L146.3 360.8M164.5 664.4L174.5 675.1L196.9 655.1L189.6 638.9L186.5 636.9L158.6 645.1L164.5 664.4M195.2 365.1L184.3 376.0L189.7 413.4L195.1 418.2L207.8 419.7L234.9 396.5L233.2 379.9L195.2 365.1M164.9 511.1L169.5 516.6L183.4 519.0L194.7 506.8L191.1 491.8L174.0 494.2L164.9 511.1M181.7 470.8L195.2 478.0L196.5 455.6L181.1 443.7L175.3 446.6L171.9 452.5L181.7 470.8M169.5 516.6L160.5 548.1L190.7 543.8L183.4 519.0L169.5 516.6M195.1 418.2L181.1 443.7L196.5 455.6L219.5 444.1L207.8 419.7L195.1 418.2M177.5 705.6L166.0 701.5L163.3 725.4M177.5 733.1L177.5 705.6M172.7 573.7L169.3 597.1L185.5 604.2L193.7 600.0L206.4 571.3L205.3 564.4L172.7 573.7M161.4 232.8L161.4 233.6M161.9 239.0L164.2 265.5L181.8 271.0L190.7 235.4M192.2 229.3L192.6 227.6M258.6 175.6L273.8 163.4L264.2 155.4M175.8 811.4L212.8 809.6L214.5 803.3L210.8 785.4L189.1 772.7M206.7 843.5L216.2 820.8L212.8 809.6L175.8 811.4M170.3 825.3L206.7 843.5M216.2 820.8L206.7 843.5L207.8 852.4L239.3 859.0M241.4 858.0L244.5 853.4L244.5 826.7L216.2 820.8M190.7 543.8L195.9 545.8L211.5 519.3L210.2 515.8L194.7 506.8L183.4 519.0L190.7 543.8M177.5 705.6L177.5 733.1M193.2 733.6L192.1 723.1L187.0 707.0L177.5 705.6M174.5 675.1L175.7 681.0L195.5 685.4L206.7 676.6L197.8 656.0L196.9 655.1L174.5 675.1M189.1 772.7L210.8 785.4L228.4 771.8L226.7 750.6L217.3 743.1L214.6 742.5M187.0 707.0L192.1 723.1L206.1 709.0L203.4 704.0L194.8 700.3L187.0 707.0M185.5 604.2L186.5 636.9L189.6 638.9L226.6 627.1L227.0 626.8L219.6 609.4L193.7 600.0L185.5 604.2M206.3 559.3L205.3 564.4L206.4 571.3L231.9 589.3L242.1 587.1L244.1 564.2L231.6 550.3L206.3 559.3M197.2 481.1L191.1 491.8L194.7 506.8L210.2 515.8L223.8 496.8L218.8 479.8L197.2 481.1M195.2 478.0L197.2 481.1L218.8 479.8L228.0 470.2L228.5 451.2L219.5 444.1L196.5 455.6L195.2 478.0M194.2 356.2L195.2 365.1L233.2 379.9L243.8 367.5L232.2 337.8L210.8 328.8L194.2 356.2M181.8 271.0L183.5 272.5L203.7 270.4L206.5 264.5M192.6 227.6L192.2 229.3M190.7 235.4L181.8 271.0M195.5 685.4L194.8 700.3L203.4 704.0L217.5 695.2L215.7 679.0L206.7 676.6L195.5 685.4M207.8 852.4L200.5 862.8L200.5 880.6M239.3 859.0L207.8 852.4M189.6 638.9L196.9 655.1L197.8 656.0L221.3 652.0L226.6 627.1L189.6 638.9M192.1 723.1L193.2 733.6M205.2 736.3L213.5 715.6L206.1 709.0L192.1 723.1M183.5 272.5L182.7 304.7L202.3 314.5L220.1 278.9L203.7 270.4L183.5 272.5M206.1 709.0L213.5 715.6L228.0 708.8L217.5 695.2L203.4 704.0L206.1 709.0M207.8 419.7L219.5 444.1L228.5 451.2L253.7 439.0L256.6 413.7L234.9 396.5L207.8 419.7M206.4 571.3L193.7 600.0L219.6 609.4L231.9 589.3L206.4 571.3M203.7 270.4L220.1 278.9L232.7 280.7L245.0 266.9L243.7 261.8M240.2 248.9L236.4 234.3M206.5 264.5L203.7 270.4M202.3 314.5L209.4 321.7L232.1 305.3L236.3 292.2L232.7 280.7L220.1 278.9L202.3 314.5M195.9 545.8L206.3 559.3L231.6 550.3L239.7 531.2L211.5 519.3L195.9 545.8M223.8 496.8L210.2 515.8L211.5 519.3L239.7 531.2L241.1 530.1L244.1 508.8L223.8 496.8M197.8 656.0L206.7 676.6L215.7 679.0L235.9 671.6L221.3 652.0L197.8 656.0M215.7 679.0L217.5 695.2L228.0 708.8L235.7 710.7L242.2 673.8L237.5 671.6L235.9 671.6L215.7 679.0M210.8 785.4L214.5 803.3L250.6 796.9L255.4 790.2L255.4 786.6L251.3 779.4L228.4 771.8L210.8 785.4M214.5 803.3L212.8 809.6L216.2 820.8L244.5 826.7L249.4 823.0L250.6 796.9L214.5 803.3M213.5 715.6L205.2 736.3M214.6 742.5L217.3 743.1L239.0 714.1L235.7 710.7L228.0 708.8L213.5 715.6M226.6 627.1L221.3 652.0L235.9 671.6L237.5 671.6L240.4 631.1L237.9 628.3L227.0 626.8L226.6 627.1M219.6 609.4L227.0 626.8L237.9 628.3L250.7 610.9L245.3 589.2L242.1 587.1L231.9 589.3L219.6 609.4M232.1 305.3L209.4 321.7L210.8 328.8L232.2 337.8L247.8 324.2L232.1 305.3M218.8 479.8L223.8 496.8L244.1 508.8L268.2 487.0L228.0 470.2L218.8 479.8M232.7 280.7L236.3 292.2L269.9 305.3L277.0 299.5L269.4 269.1L245.0 266.9L232.7 280.7M376.4 895.0L337.7 882.8L335.5 883.9M250.6 796.9L249.4 823.0L272.3 827.0L283.0 815.8L279.3 806.2L255.4 790.2L250.6 796.9M233.2 379.9L234.9 396.5L256.6 413.7L269.9 410.0L280.8 375.5L261.9 361.7L243.8 367.5L233.2 379.9M217.3 743.1L226.7 750.6L239.1 747.2L259.3 727.0L258.0 721.6L250.5 718.2L239.0 714.1L217.3 743.1M241.1 530.1L239.7 531.2L231.6 550.3L244.1 564.2L274.9 559.6L280.4 547.6L274.7 537.3L241.1 530.1M235.7 710.7L239.0 714.1L250.5 718.2L250.5 673.5L242.2 673.8L235.7 710.7M249.4 823.0L244.5 826.7L244.5 853.4L274.6 846.7L272.3 827.0L249.4 823.0M232.1 305.3L247.8 324.2L263.5 323.5L269.9 305.3L236.3 292.2L232.1 305.3M228.5 451.2L228.0 470.2L268.2 487.0L270.8 486.4L268.7 452.1L253.7 439.0L228.5 451.2M247.8 324.2L232.2 337.8L243.8 367.5L261.9 361.7L271.3 340.3L263.5 323.5L247.8 324.2M228.4 771.8L251.3 779.4L256.1 764.2L239.1 747.2L226.7 750.6L228.4 771.8M237.5 671.6L242.2 673.8L250.5 673.5L267.3 671.8L269.9 658.0L263.2 641.0L240.4 631.1L237.5 671.6M239.1 747.2L256.1 764.2L268.4 752.8L264.5 732.9L259.3 727.0L239.1 747.2M251.3 779.4L255.4 786.6L280.1 776.4L273.8 755.7L268.4 752.8L256.1 764.2L251.3 779.4M237.9 628.3L240.4 631.1L263.2 641.0L278.3 618.5L276.2 612.2L250.7 610.9L237.9 628.3M225.7 87.0L227.5 89.4M249.4 118.5L260.9 133.9L281.9 130.4L282.1 129.7L268.1 101.6M244.1 508.8L241.1 530.1L274.7 537.3L286.2 494.0L270.8 486.4L268.2 487.0L244.1 508.8M244.1 564.2L242.1 587.1L245.3 589.2L278.0 584.5L274.9 559.6L244.1 564.2M250.5 718.2L258.0 721.6L274.7 702.0L272.6 677.6L267.3 671.8L250.5 673.5L250.5 718.2M256.6 413.7L253.7 439.0L268.7 452.1L298.2 439.3L281.4 413.4L269.9 410.0L256.6 413.7M263.2 641.0L269.9 658.0L299.4 641.6L299.4 630.0L278.3 618.5L263.2 641.0M258.0 721.6L259.3 727.0L264.5 732.9L291.7 734.4L284.6 705.9L274.7 702.0L258.0 721.6M245.0 266.9L269.4 269.1L278.4 260.1L273.6 226.0L265.1 222.2M236.4 234.3L240.2 248.9M243.7 261.8L245.0 266.9M269.9 305.3L263.5 323.5L271.3 340.3L304.0 338.0L305.0 320.2L294.6 301.4L277.0 299.5L269.9 305.3M264.2 155.4L273.8 163.4L296.4 161.8L281.9 130.4L260.9 133.9L260.3 134.9M245.3 589.2L250.7 610.9L276.2 612.2L283.0 590.3L278.0 584.5L245.3 589.2M282.9 871.7L284.3 856.3L274.6 846.7L244.5 853.4L241.4 858.0M272.3 827.0L274.6 846.7L284.3 856.3L313.9 840.3L309.2 820.1L283.0 815.8L272.3 827.0M269.4 269.1L277.0 299.5L294.6 301.4L320.3 273.4L319.7 267.5L314.6 263.8L278.4 260.1L269.4 269.1M268.1 194.2L306.4 176.2L304.2 166.8L296.4 161.8L273.8 163.4L258.6 175.6M264.5 732.9L268.4 752.8L273.8 755.7L293.2 753.3L295.0 735.9L291.7 734.4L264.5 732.9M280.4 547.6L274.9 559.6L278.0 584.5L283.0 590.3L310.7 590.3L312.1 554.7L308.4 548.4L280.4 547.6M255.4 790.2L279.3 806.2L291.4 785.1L283.8 777.5L280.1 776.4L255.4 786.6L255.4 790.2M269.9 658.0L267.3 671.8L272.6 677.6L299.9 675.6L312.0 655.5L299.4 641.6L269.9 658.0M291.4 785.1L279.3 806.2L283.0 815.8L309.2 820.1L316.5 808.7L317.4 790.9L312.3 786.0L291.4 785.1M268.1 101.6L282.1 129.7L291.5 121.8L294.2 110.4M268.7 452.1L270.8 486.4L286.2 494.0L297.3 492.6L304.2 478.4L306.8 441.7L298.2 439.3L268.7 452.1M282.1 129.7L281.9 130.4L296.4 161.8L304.2 166.8L341.7 125.2L291.5 121.8L282.1 129.7M276.2 612.2L278.3 618.5L299.4 630.0L318.6 614.4L317.0 595.2L310.7 590.3L283.0 590.3L276.2 612.2M265.1 222.2L273.6 226.0L290.5 221.3L310.1 182.1L306.4 176.2L268.1 194.2M271.3 340.3L261.9 361.7L280.8 375.5L300.3 375.5L317.0 353.5L304.0 338.0L271.3 340.3M280.8 375.5L269.9 410.0L281.4 413.4L307.8 397.3L300.3 375.5L280.8 375.5M291.7 734.4L295.0 735.9L305.8 731.0L299.5 707.2L284.6 705.9L291.7 734.4M273.8 755.7L280.1 776.4L283.8 777.5L297.0 757.8L293.2 753.3L273.8 755.7M273.6 226.0L278.4 260.1L314.6 263.8L304.7 231.2L290.5 221.3L273.6 226.0M274.7 702.0L284.6 705.9L299.5 707.2L317.2 695.1L299.9 675.6L272.6 677.6L274.7 702.0M307.8 397.3L281.4 413.4L298.2 439.3L306.8 441.7L322.4 434.3L318.7 404.3L307.8 397.3M274.7 537.3L280.4 547.6L308.4 548.4L320.7 527.9L312.8 502.9L297.3 492.6L286.2 494.0L274.7 537.3M320.3 273.4L294.6 301.4L305.0 320.2L345.2 306.0L345.5 300.5L320.3 273.4M284.3 856.3L282.9 871.7M322.3 883.1L315.3 841.3L313.9 840.3L284.3 856.3M313.9 840.3L315.3 841.3L348.9 842.4L353.2 821.7L345.4 814.8L316.5 808.7L309.2 820.1L313.9 840.3M290.5 221.3L304.7 231.2L333.8 218.5L333.8 216.5L315.6 184.9L310.1 182.1L290.5 221.3M304.2 166.8L306.4 176.2L310.1 182.1L315.6 184.9L354.2 179.4L364.5 155.6M345.0 122.9L341.7 125.2L304.2 166.8M293.2 753.3L297.0 757.8L309.4 762.8L325.6 747.6L326.3 744.2L319.7 733.7L305.8 731.0L295.0 735.9L293.2 753.3M299.4 630.0L299.4 641.6L312.0 655.5L323.3 655.5L339.8 638.1L339.8 633.8L339.2 630.1L318.6 614.4L299.4 630.0M283.8 777.5L291.4 785.1L312.3 786.0L309.4 762.8L297.0 757.8L283.8 777.5M309.4 762.8L312.3 786.0L317.4 790.9L345.2 779.0L325.6 747.6L309.4 762.8M317.2 695.1L299.5 707.2L305.8 731.0L319.7 733.7L334.4 697.6L317.2 695.1M312.0 655.5L299.9 675.6L317.2 695.1L334.4 697.6L344.3 693.8L323.3 655.5L312.0 655.5M300.3 375.5L307.8 397.3L318.7 404.3L342.8 390.2L345.5 374.2L322.5 353.7L317.0 353.5L300.3 375.5M310.7 590.3L317.0 595.2L345.0 585.0L351.9 577.3L351.9 565.2L312.1 554.7L310.7 590.3M306.8 441.7L304.2 478.4L349.5 462.2L349.3 453.4L342.0 440.8L322.4 434.3L306.8 441.7M314.6 263.8L319.7 267.5L347.9 244.8L333.8 218.5L304.7 231.2L314.6 263.8M519.8 161.7L533.2 186.7L553.0 204.3L575.6 174.1M575.9 173.8L602.8 137.9M294.2 110.4L291.5 121.8L341.7 125.2L345.0 122.9M305.0 320.2L304.0 338.0L317.0 353.5L322.5 353.7L351.7 323.1L345.2 306.0L305.0 320.2M308.4 548.4L312.1 554.7L351.9 565.2L355.9 557.7L342.3 531.6L320.7 527.9L308.4 548.4M304.2 478.4L297.3 492.6L312.8 502.9L345.4 492.4L352.8 471.0L349.5 462.2L304.2 478.4M317.0 595.2L318.6 614.4L339.2 630.1L354.2 615.9L345.0 585.0L317.0 595.2M319.7 733.7L326.3 744.2L368.5 735.4L366.1 728.5L353.4 697.6L349.8 694.1L344.3 693.8L334.4 697.6L319.7 733.7M333.8 216.5L333.8 218.5L347.9 244.8L350.8 245.0L374.1 212.0L374.1 203.6L365.4 198.8L333.8 216.5M319.7 267.5L320.3 273.4L345.5 300.5L369.9 284.8L377.5 271.4L365.3 253.5L350.8 245.0L347.9 244.8L319.7 267.5M322.4 434.3L342.0 440.8L354.0 424.4L355.5 405.1L342.8 390.2L318.7 404.3L322.4 434.3M339.8 638.1L323.3 655.5L344.3 693.8L349.8 694.1L353.5 687.2L351.2 648.3L339.8 638.1M349.3 453.4L349.5 462.2L352.8 471.0L382.4 480.1L396.1 450.2L375.3 447.5L349.3 453.4M317.4 790.9L316.5 808.7L345.4 814.8L348.4 779.3L345.2 779.0L317.4 790.9M322.5 353.7L345.5 374.2L367.1 367.0L380.2 343.8L368.0 331.3L351.7 323.1L322.5 353.7M345.4 492.4L312.8 502.9L320.7 527.9L342.3 531.6L360.3 512.5L345.4 492.4M315.3 841.3L322.3 883.1M335.5 883.9L337.7 882.8L357.1 853.1L348.9 842.4L315.3 841.3M449.0 887.4L435.7 874.1L410.2 876.4L402.4 884.9M385.0 883.7L377.1 865.5L366.9 854.9L357.1 853.1L337.7 882.8L376.4 895.0M326.3 744.2L325.6 747.6L345.2 779.0L348.4 779.3L351.3 778.7L369.3 752.8L369.3 736.1L368.5 735.4L326.3 744.2M391.2 165.2L399.7 191.4L406.6 194.1M424.0 162.9L421.0 160.2M315.6 184.9L333.8 216.5L365.4 198.8L354.2 179.4L315.6 184.9M354.0 424.4L342.0 440.8L349.3 453.4L375.3 447.5L375.3 424.4L354.0 424.4M345.5 374.2L342.8 390.2L355.5 405.1L375.3 400.1L373.9 376.5L367.1 367.0L345.5 374.2M351.9 565.2L351.9 577.3L379.0 591.4L395.4 569.4L394.0 560.4L378.0 548.4L355.9 557.7L351.9 565.2M345.4 492.4L360.3 512.5L361.6 512.7L389.0 490.8L382.4 480.1L352.8 471.0L345.4 492.4M351.3 778.7L348.4 779.3L345.4 814.8L353.2 821.7L361.7 817.1L365.0 790.5L351.3 778.7M342.3 531.6L355.9 557.7L378.0 548.4L381.1 532.0L361.6 512.7L360.3 512.5L342.3 531.6M339.2 630.1L339.8 633.8L378.1 633.8L375.1 615.1L354.2 615.9L339.2 630.1M354.2 179.4L365.4 198.8L374.1 203.6L399.7 191.4L391.2 165.2M364.5 155.6L354.2 179.4M345.5 300.5L345.2 306.0L351.7 323.1L368.0 331.3L384.0 304.3L369.9 284.8L345.5 300.5M351.9 577.3L345.0 585.0L354.2 615.9L375.1 615.1L383.5 604.2L379.0 591.4L351.9 577.3M339.8 638.1L351.2 648.3L384.0 648.3L378.1 633.8L339.8 633.8L339.8 638.1M351.2 648.3L353.5 687.2L387.0 657.6L385.2 649.3L384.0 648.3L351.2 648.3M348.9 842.4L357.1 853.1L366.9 854.9L392.1 826.7L392.0 824.4L389.2 820.9L361.7 817.1L353.2 821.7L348.9 842.4M374.1 212.0L350.8 245.0L365.3 253.5L390.7 232.4L374.1 212.0M361.6 512.7L381.1 532.0L403.2 519.1L405.0 516.5L398.4 495.1L389.0 490.8L361.6 512.7M392.1 826.7L366.9 854.9L377.1 865.5L407.7 847.2L392.1 826.7M353.5 687.2L349.8 694.1L353.4 697.6L393.1 693.8L398.5 682.0L395.8 664.8L387.0 657.6L353.5 687.2M366.1 728.5L368.5 735.4L369.3 736.1L380.5 734.4L405.7 719.3L405.8 713.3L405.7 712.5L395.8 698.8L366.1 728.5M384.0 648.3L385.2 649.3L409.4 630.3L407.9 608.9L383.5 604.2L375.1 615.1L378.1 633.8L384.0 648.3M365.0 790.5L361.7 817.1L389.2 820.9L388.1 792.5L365.0 790.5M351.3 778.7L365.0 790.5L388.1 792.5L399.9 779.7L369.3 752.8L351.3 778.7M367.1 367.0L373.9 376.5L392.3 381.8L409.3 347.8L406.8 342.7L380.2 343.8L367.1 367.0M355.5 405.1L354.0 424.4L375.3 424.4L375.5 424.3L377.9 401.5L375.3 400.1L355.5 405.1M369.3 752.8L399.9 779.7L400.0 779.6L413.7 770.7L418.9 761.0L380.5 734.4L369.3 736.1L369.3 752.8M375.3 424.4L375.3 447.5L396.1 450.2L396.3 450.0L398.0 445.1L393.4 426.5L375.5 424.3L375.3 424.4M365.3 253.5L377.5 271.4L394.0 270.9L400.6 265.3L408.7 241.0L404.3 234.6L390.7 232.4L365.3 253.5M377.9 401.5L375.5 424.3L393.4 426.5L399.9 412.0L395.8 403.2L377.9 401.5M389.2 820.9L392.0 824.4L414.1 815.3L418.3 809.4L400.0 779.6L399.9 779.7L388.1 792.5L389.2 820.9M421.0 160.2L424.0 162.9M368.0 331.3L380.2 343.8L406.8 342.7L411.2 335.6L407.0 307.0L384.0 304.3L368.0 331.3M374.1 203.6L374.1 212.0L390.7 232.4L404.3 234.6L410.1 211.5M410.8 208.7L411.0 207.9M406.6 194.1L399.7 191.4L374.1 203.6M382.4 480.1L389.0 490.8L398.4 495.1L418.6 480.1L417.7 466.1L396.3 450.0L396.1 450.2L382.4 480.1M375.3 400.1L377.9 401.5L395.8 403.2L399.8 393.6L392.3 381.8L373.9 376.5L375.3 400.1M381.1 532.0L378.0 548.4L394.0 560.4L411.4 549.9L403.2 519.1L381.1 532.0M395.8 403.2L399.9 412.0L425.8 416.8L425.8 379.9L399.8 393.6L395.8 403.2M395.8 698.8L393.1 693.8L353.4 697.6L366.1 728.5L395.8 698.8M393.1 693.8L395.8 698.8L405.7 712.5L416.4 697.8L416.5 697.5L407.9 684.7L398.5 682.0L393.1 693.8M385.2 649.3L387.0 657.6L395.8 664.8L418.5 661.9L427.7 641.5L409.4 630.3L385.2 649.3M379.0 591.4L383.5 604.2L407.9 608.9L412.4 605.5L414.4 581.4L395.4 569.4L379.0 591.4M377.5 271.4L369.9 284.8L384.0 304.3L407.0 307.0L409.7 299.8L394.0 270.9L377.5 271.4M408.7 241.0L400.6 265.3L432.9 272.4L436.0 254.4L431.3 241.9L408.7 241.0M393.4 426.5L398.0 445.1L435.6 427.4L425.8 416.8L399.9 412.0L393.4 426.5M409.3 347.8L392.3 381.8L399.8 393.6L425.8 379.9L429.7 373.8L409.3 347.8M406.8 342.7L409.3 347.8L429.7 373.8L460.3 375.2L461.3 374.0L454.5 326.4L451.1 323.1L411.2 335.6L406.8 342.7M392.0 824.4L392.1 826.7L407.7 847.2L410.2 848.6L421.5 845.5L428.6 835.2L414.1 815.3L392.0 824.4M377.1 865.5L385.0 883.7M402.4 884.9L410.2 876.4L410.2 848.6L407.7 847.2L377.1 865.5M405.7 719.3L380.5 734.4L418.9 761.0L422.1 758.4L431.7 742.2L433.2 737.7L405.7 719.3M410.2 848.6L410.2 876.4L435.7 874.1L437.0 859.8L421.5 845.5L410.2 848.6M407.9 608.9L409.4 630.3L427.7 641.5L438.4 639.1L442.4 632.8L440.9 613.3L432.7 607.0L412.4 605.5L407.9 608.9M394.0 560.4L395.4 569.4L414.4 581.4L427.5 573.9L432.8 555.0L430.1 552.3L411.4 549.9L394.0 560.4M403.2 519.1L411.4 549.9L430.1 552.3L430.1 547.8L425.8 523.8L411.0 517.1L405.0 516.5L403.2 519.1M409.7 299.8L407.0 307.0L411.2 335.6L451.1 323.1L452.7 292.5L440.4 287.0L409.7 299.8M400.6 265.3L394.0 270.9L409.7 299.8L440.4 287.0L432.9 272.4L400.6 265.3M416.4 697.8L405.7 712.5L405.8 713.3L434.3 703.8L416.4 697.8M407.9 684.7L416.5 697.5L429.8 681.9L429.6 680.3L407.9 684.7M413.7 770.7L400.0 779.6L418.3 809.4L427.2 806.5L434.6 793.2L413.7 770.7M398.0 445.1L396.3 450.0L417.7 466.1L435.5 452.2L441.1 429.7L435.6 427.4L398.0 445.1M418.5 661.9L395.8 664.8L398.5 682.0L407.9 684.7L429.6 680.3L430.7 675.7L418.5 661.9M418.3 204.7L425.6 212.5L446.5 212.5M448.9 212.5L462.0 212.5L470.1 198.1L465.9 187.3M398.4 495.1L405.0 516.5L411.0 517.1L441.0 490.8L418.6 480.1L398.4 495.1M429.6 680.3L429.8 681.9L442.7 703.8L443.6 704.4L459.4 696.2L463.8 667.8L455.3 665.1L430.7 675.7L429.6 680.3M429.8 681.9L416.5 697.5L416.4 697.8L434.3 703.8L442.7 703.8L429.8 681.9M414.1 815.3L428.6 835.2L449.7 827.1L427.2 806.5L418.3 809.4L414.1 815.3M429.7 373.8L425.8 379.9L425.8 416.8L435.6 427.4L441.1 429.7L443.1 429.1L462.1 383.7L460.3 375.2L429.7 373.8M404.3 234.6L408.7 241.0L431.3 241.9L438.4 233.3L425.6 212.5L418.3 204.7M411.0 207.9L410.8 208.7M410.1 211.5L404.3 234.6M418.9 761.0L413.7 770.7L434.6 793.2L446.4 791.2L446.4 774.6L422.1 758.4L418.9 761.0M427.7 641.5L418.5 661.9L430.7 675.7L455.3 665.1L438.4 639.1L427.7 641.5M417.7 466.1L418.6 480.1L441.0 490.8L455.3 493.0L458.8 481.9L435.5 452.2L417.7 466.1M434.3 703.8L405.8 713.3L405.7 719.3L433.2 737.7L440.7 732.9L443.6 704.4L442.7 703.8L434.3 703.8M425.6 212.5L438.4 233.3L455.7 226.9L462.0 212.5L448.9 212.5M446.5 212.5L425.6 212.5M427.5 573.9L414.4 581.4L412.4 605.5L432.7 607.0L439.9 585.4L427.5 573.9M430.1 547.8L430.1 552.3L432.8 555.0L444.6 554.6L458.5 512.7L458.1 511.7L456.6 512.5L430.1 547.8M428.6 835.2L421.5 845.5L437.0 859.8L457.5 846.1L461.4 838.3L458.0 827.9L449.7 827.1L428.6 835.2M432.9 272.4L440.4 287.0L452.7 292.5L490.2 271.9L473.6 257.2L436.0 254.4L432.9 272.4M457.5 846.1L437.0 859.8L435.7 874.1L449.0 887.4M461.9 880.9L457.5 846.1M411.0 517.1L425.8 523.8L456.6 512.5L458.1 511.7L459.5 502.6L455.3 493.0L441.0 490.8L411.0 517.1M439.9 585.4L432.7 607.0L440.9 613.3L460.6 604.4L464.2 595.4L455.1 583.8L439.9 585.4M425.8 523.8L430.1 547.8L456.6 512.5L425.8 523.8M431.7 742.2L422.1 758.4L446.4 774.6L457.0 767.5L431.7 742.2M431.3 241.9L436.0 254.4L473.6 257.2L455.7 226.9L438.4 233.3L431.3 241.9M446.4 791.2L434.6 793.2L427.2 806.5L449.7 827.1L458.0 827.9L464.1 816.8L454.8 795.6L446.4 791.2M462.0 212.5L455.7 226.9L473.6 257.2L490.2 271.9L505.9 272.1L508.5 270.0L516.6 247.4L478.8 202.7L470.1 198.1L462.0 212.5M441.1 429.7L435.5 452.2L458.8 481.9L476.1 462.5L456.3 433.5L443.1 429.1L441.1 429.7M432.8 555.0L427.5 573.9L439.9 585.4L455.1 583.8L458.9 563.8L450.0 556.9L444.6 554.6L432.8 555.0M433.2 737.7L431.7 742.2L457.0 767.5L462.0 766.9L462.0 736.6L440.7 732.9L433.2 737.7M458.8 481.9L455.3 493.0L459.5 502.6L500.0 501.1L510.2 466.8L491.1 460.6L476.1 462.5L458.8 481.9M457.0 767.5L446.4 774.6L446.4 791.2L454.8 795.6L474.0 774.9L462.0 766.9L457.0 767.5M458.1 511.7L458.5 512.7L472.3 530.1L480.7 536.4L501.2 527.1L508.5 514.8L500.0 501.1L459.5 502.6L458.1 511.7M461.4 838.3L457.5 846.1L461.9 880.9M491.0 875.3L483.3 849.2L461.4 838.3M458.5 512.7L444.6 554.6L450.0 556.9L472.3 530.1L458.5 512.7M462.1 383.7L443.1 429.1L456.3 433.5L488.7 418.1L491.3 414.5L462.1 383.7M443.6 704.4L440.7 732.9L462.0 736.6L471.1 734.5L475.4 731.0L483.8 715.1L460.2 696.7L459.4 696.2L443.6 704.4M440.9 613.3L442.4 632.8L476.6 631.0L476.7 630.2L460.6 604.4L440.9 613.3M442.4 632.8L438.4 639.1L455.3 665.1L463.8 667.8L476.1 663.0L483.2 652.6L483.2 646.3L476.6 631.0L442.4 632.8M461.3 374.0L460.3 375.2L462.1 383.7L491.3 414.5L514.8 409.6L510.9 383.1L493.6 362.5L461.3 374.0M451.1 323.1L454.5 326.4L508.0 328.5L505.9 272.1L490.2 271.9L452.7 292.5L451.1 323.1M462.0 766.9L474.0 774.9L481.6 774.6L487.0 768.6L471.1 734.5L462.0 736.6L462.0 766.9M454.5 326.4L461.3 374.0L493.6 362.5L508.7 329.9L508.0 328.5L454.5 326.4M450.0 556.9L458.9 563.8L478.8 560.7L481.7 550.5L480.7 536.4L472.3 530.1L450.0 556.9M454.8 795.6L464.1 816.8L469.3 815.0L488.3 794.7L481.6 774.6L474.0 774.9L454.8 795.6M458.0 827.9L461.4 838.3L483.3 849.2L501.9 834.7L498.9 824.2L469.3 815.0L464.1 816.8L458.0 827.9M455.1 583.8L464.2 595.4L484.7 590.5L489.5 575.0L478.8 560.7L458.9 563.8L455.1 583.8M464.2 595.4L460.6 604.4L476.7 630.2L496.1 606.9L484.7 590.5L464.2 595.4M463.8 667.8L459.4 696.2L460.2 696.7L491.7 686.2L491.9 685.5L476.1 663.0L463.8 667.8M456.3 433.5L476.1 462.5L491.1 460.6L488.7 418.1L456.3 433.5M517.5 871.0L514.8 839.8L501.9 834.7L483.3 849.2L491.0 875.3M553.4 842.0L553.0 842.1L530.5 874.2M476.7 630.2L476.6 631.0L483.2 646.3L512.6 629.6M514.2 609.9L501.1 607.8M498.7 607.4L496.1 606.9L476.7 630.2M487.0 768.6L481.6 774.6L488.3 794.7L501.7 799.3L508.1 761.3L487.0 768.6M508.0 328.5L508.7 329.9L544.4 341.5L572.8 294.1L508.5 270.0L505.9 272.1L508.0 328.5M465.9 187.3L470.1 198.1L478.8 202.7L533.2 186.7L519.8 161.7M460.2 696.7L483.8 715.1L489.3 712.5L491.7 686.2L460.2 696.7M483.2 652.6L476.1 663.0L491.9 685.5L512.1 682.3L526.1 670.5M520.9 662.1L483.2 652.6M475.4 731.0L471.1 734.5L487.0 768.6L508.1 761.3L510.0 760.3L504.4 747.9L475.4 731.0M489.3 712.5L483.8 715.1L475.4 731.0L504.4 747.9L508.4 718.0L506.1 715.7L489.3 712.5M508.7 329.9L493.6 362.5L510.9 383.1L512.0 382.5L549.3 349.3L544.4 341.5L508.7 329.9M480.7 536.4L481.7 550.5L512.1 550.5L501.2 527.1L480.7 536.4M491.3 414.5L488.7 418.1L491.1 460.6L510.2 466.8L515.7 464.9L525.9 421.7L519.2 412.2L514.8 409.6L491.3 414.5M508.5 514.8L501.2 527.1L512.1 550.5L514.9 552.9L535.8 539.7L539.2 529.2L517.0 515.9L508.5 514.8M481.7 550.5L478.8 560.7L489.5 575.0L513.6 570.5L514.9 552.9L512.1 550.5L481.7 550.5M488.3 794.7L469.3 815.0L498.9 824.2L508.6 803.7L501.7 799.3L488.3 794.7M478.8 202.7L516.6 247.4L554.0 214.0L553.0 204.3L533.2 186.7L478.8 202.7M498.9 824.2L501.9 834.7L514.8 839.8L531.4 830.5L528.3 803.3L523.4 801.3L508.6 803.7L498.9 824.2M489.3 712.5L506.1 715.7L512.1 705.5L512.1 682.3L491.9 685.5L491.7 686.2L489.3 712.5M489.5 575.0L484.7 590.5L496.1 606.9L498.7 607.4M501.1 607.8L514.2 609.9M537.6 593.3L537.0 591.1L513.6 570.5L489.5 575.0M500.0 501.1L508.5 514.8L517.0 515.9L534.2 492.2L519.2 466.4L515.7 464.9L510.2 466.8L500.0 501.1M504.4 747.9L510.0 760.3L512.1 760.6L532.0 733.9L520.0 721.9L508.4 718.0L504.4 747.9M483.2 646.3L483.2 652.6L520.9 662.1M512.6 629.6L483.2 646.3M510.0 760.3L508.1 761.3L501.7 799.3L508.6 803.7L523.4 801.3L515.3 763.1L512.1 760.6L510.0 760.3M514.8 839.8L517.5 871.0M530.5 874.2L553.0 842.1L531.4 830.5L514.8 839.8M514.9 552.9L513.6 570.5L537.0 591.1L548.0 565.5L535.8 539.7L514.9 552.9M512.1 682.3L512.1 705.5L534.4 696.5L534.4 683.3M526.1 670.5L512.1 682.3M506.1 715.7L508.4 718.0L520.0 721.9L538.1 703.8L534.4 696.5L512.1 705.5L506.1 715.7M512.1 760.6L515.3 763.1L543.8 766.7L550.4 733.9L532.0 733.9L512.1 760.6M523.4 801.3L528.3 803.3L537.7 799.5L553.1 777.4L543.8 766.7L515.3 763.1L523.4 801.3M512.0 382.5L510.9 383.1L514.8 409.6L519.2 412.2L561.2 375.5L512.0 382.5M534.4 683.3L534.4 696.5L538.1 703.8L559.7 718.2L565.9 714.5M537.0 591.1L537.6 593.3M584.1 573.9L571.6 556.4L570.4 555.9L548.0 565.5L537.0 591.1M517.0 515.9L539.2 529.2L541.0 528.4L555.6 501.3L534.2 492.2L517.0 515.9M549.3 349.3L512.0 382.5L561.2 375.5L566.7 371.9L567.7 367.7L549.3 349.3M544.4 341.5L549.3 349.3L567.7 367.7L585.0 361.5L598.8 313.2L597.9 295.9L592.9 288.9L572.8 294.1L544.4 341.5M520.0 721.9L532.0 733.9L550.4 733.9L551.4 733.3L559.7 718.2L538.1 703.8L520.0 721.9M515.7 464.9L519.2 466.4L564.3 463.4L569.1 451.0L556.7 426.9L525.9 421.7L515.7 464.9M528.3 803.3L531.4 830.5L553.0 842.1L553.4 842.0M562.3 814.8L537.7 799.5L528.3 803.3M519.2 412.2L525.9 421.7L556.7 426.9L574.2 401.9L566.7 371.9L561.2 375.5L519.2 412.2M519.2 466.4L534.2 492.2L555.6 501.3L574.3 491.9L564.3 463.4L519.2 466.4M539.2 529.2L535.8 539.7L548.0 565.5L570.4 555.9L564.1 536.8L541.0 528.4L539.2 529.2M516.6 247.4L508.5 270.0L572.8 294.1L592.9 288.9L601.4 262.1L591.9 237.2L554.0 214.0L516.6 247.4M569.1 451.0L564.3 463.4L574.3 491.9L576.5 493.1L611.1 487.9L611.1 470.7L589.4 445.4L569.1 451.0M551.4 733.3L550.4 733.9L543.8 766.7L553.1 777.4L568.7 777.4L575.3 768.6L576.1 756.2L551.4 733.3M559.7 718.2L551.4 733.3L576.1 756.2L594.5 737.8M565.9 714.5L559.7 718.2M553.1 777.4L537.7 799.5L562.3 814.8M584.4 806.8L568.7 777.4L553.1 777.4M555.6 501.3L541.0 528.4L564.1 536.8L582.1 521.1L576.5 493.1L574.3 491.9L555.6 501.3M621.4 771.0L575.3 768.6L568.7 777.4L584.4 806.8M602.8 137.9L575.9 173.8M575.6 174.1L553.0 204.3L554.0 214.0L591.9 237.2L632.5 196.5M556.7 426.9L569.1 451.0L589.4 445.4L601.1 432.6L596.8 412.0L574.2 401.9L556.7 426.9M567.7 367.7L566.7 371.9L574.2 401.9L596.8 412.0L630.5 388.6L617.5 369.2L585.0 361.5L567.7 367.7M582.1 521.1L564.1 536.8L570.4 555.9L571.6 556.4L600.8 536.2L582.1 521.1M594.5 737.8L576.1 756.2L575.3 768.6L621.4 771.0M611.4 560.3L602.3 537.2L601.3 536.3L600.8 536.2L571.6 556.4L584.1 573.9M576.5 493.1L582.1 521.1L600.8 536.2L601.3 536.3L618.7 492.7L611.1 487.9L576.5 493.1M661.2 542.6L661.0 541.9L638.6 526.5L602.3 537.2L611.4 560.3M601.1 432.6L589.4 445.4L611.1 470.7L633.0 439.7L601.1 432.6M709.1 500.9L666.3 527.6L665.7 529.4M662.3 538.6L661.0 541.9L661.2 542.6M597.9 295.9L598.8 313.2L628.0 348.2L646.6 334.8M654.7 315.4L597.9 295.9M585.0 361.5L617.5 369.2L628.0 348.2L598.8 313.2L585.0 361.5M611.1 487.9L618.7 492.7L619.5 492.8L649.3 460.6L638.8 438.1L633.0 439.7L611.1 470.7L611.1 487.9M601.3 536.3L602.3 537.2L638.6 526.5L623.9 495.8L619.5 492.8L618.7 492.7L601.3 536.3M596.8 412.0L601.1 432.6L633.0 439.7L638.8 438.1L642.3 432.3L632.8 389.6L630.5 388.6L596.8 412.0M592.9 288.9L597.9 295.9L654.7 315.4M657.4 257.1L601.4 262.1L592.9 288.9M617.5 369.2L630.5 388.6L632.8 389.6L645.3 386.1L678.9 359.7M646.6 334.8L628.0 348.2L617.5 369.2M632.5 196.5L591.9 237.2L601.4 262.1L657.4 257.1M661.0 541.9L662.3 538.6M665.7 529.4L666.3 527.6L663.8 492.2L623.9 495.8L638.6 526.5L661.0 541.9M649.3 460.6L619.5 492.8L623.9 495.8L663.8 492.2L674.0 476.8L649.3 460.6M678.9 359.7L645.3 386.1L687.6 416.3M642.3 432.3L638.8 438.1L649.3 460.6L674.0 476.8L687.5 473.0M686.3 425.7L642.3 432.3M632.8 389.6L642.3 432.3L686.3 425.7M687.6 416.3L645.3 386.1L632.8 389.6M663.8 492.2L666.3 527.6L709.1 500.9M687.5 473.0L674.0 476.8L663.8 492.2" fill="none" stroke="#aaaaaa" stroke-opacity="0.45" stroke-width="0.7"/>
<path d="M517.2 172.5L519.0 164.3L522.6 158.0L527.2 154.9L536.2 156.4L545.3 156.7L554.3 157.4L556.1 161.6L550.7 164.3L539.8 163.4L530.8 168.0L523.5 172.5L519.9 175.2Z" fill="#fff" stroke="#000" stroke-width="1.4" stroke-linejoin="round"/>
<path d="M618.6 198.7L626.8 196.6L634.9 199.6L637.6 206.0L634.9 210.5L627.7 209.6L623.1 214.1L619.5 211.4Z" fill="#fff" stroke="#000" stroke-width="1.4" stroke-linejoin="round"/>
<path d="M588.4 138.5L597.9 139.7L600.3 145.9L599.5 154.1L596.2 154.9L592.8 148.4L589.3 143.3Z" fill="#fff" stroke="#000" stroke-width="1.4" stroke-linejoin="round"/>
<path d="M568.2 148.4L571.2 141.6L574.7 140.7L579.4 142.8L580.7 147.2L575.5 149.7L572.1 153.2L574.2 156.2L580.3 160.1L577.7 162.7L571.6 162.7L568.6 158.8L566.9 153.6Z" fill="#fff" stroke="#000" stroke-width="1.4" stroke-linejoin="round"/>
<path d="M326.3 247.0L335.4 243.4L339.0 239.8L346.2 238.9L351.7 235.3L357.1 233.5L358.9 238.0L356.2 243.4L357.1 249.8L355.3 256.1L358.9 259.7L363.4 263.3L366.1 267.0L360.7 271.5L355.3 270.6L348.9 268.8L342.6 269.7L337.2 265.1L331.7 263.3L328.1 257.9L327.2 251.6Z" fill="#858585" stroke="#000" stroke-width="1.8" stroke-linejoin="round"/>
<path d="M569.7 379.7L571.5 368.8L573.3 361.6L578.7 356.1L584.2 354.3L589.6 355.2L595.0 352.5L598.7 354.3L600.5 359.8L605.9 365.2L609.5 370.6L615.0 375.2L616.8 377.9L613.1 383.3L609.5 386.9L605.9 383.3L600.5 381.5L593.2 383.3L587.8 382.4L580.5 381.5L573.3 381.5Z" fill="#858585" stroke="#000" stroke-width="1.8" stroke-linejoin="round"/>
<path d="M235.6 625.7L242.8 622.1L246.4 616.7L251.0 614.0L252.8 616.7L257.3 619.4L253.7 625.7L248.3 629.4L244.6 631.2L241.0 633.0L237.4 633.9L239.2 629.4Z" fill="#858585" stroke="#000" stroke-width="0.8" stroke-linejoin="round"/>
<path d="M445.4 820.8L453.4 816.8L455.3 811.8L460.3 809.9L467.2 811.8L472.2 812.8L473.2 818.8L474.2 826.7L473.2 834.6L475.2 838.6L478.1 842.6L473.2 844.6L465.2 845.5L459.3 842.6L453.4 840.6L448.4 838.6L448.4 832.7L449.4 827.7L446.4 824.7Z" fill="#858585" stroke="#000" stroke-width="0.8" stroke-linejoin="round"/>
<path d="M299.2 113.6h10M304.2 108.6v10M298.0 131.7h10M303.0 126.7v10M266.7 180.0h10M271.7 175.0v10M240.1 132.9h10M245.1 127.9v10M334.2 164.3h10M339.2 159.3v10M370.4 180.0h10M375.4 175.0v10M339.1 198.1h10M344.1 193.1v10M307.7 216.2h10M312.7 211.2v10M349.9 217.4h10M354.9 212.4v10M316.1 235.5h10M321.1 230.5v10M370.4 231.9h10M375.4 226.9v10M143.1 243.9h10M148.1 238.9v10M171.3 241.5h10M176.3 236.5v10M195.5 247.5h10M200.5 242.5v10M218.4 258.4h10M223.4 253.4v10M254.6 248.7h10M259.6 243.7v10M288.4 243.9h10M293.4 238.9v10M131.5 275.3h10M136.5 270.3v10M200.3 293.4h10M205.3 288.4v10M212.4 299.4h10M217.4 294.4v10M251.0 287.4h10M256.0 282.4v10M242.5 309.1h10M247.5 304.1v10M284.8 278.9h10M289.8 273.9v10M346.3 272.9h10M351.3 267.9v10M182.2 329.6h10M187.2 324.6v10M228.1 321.1h10M233.1 316.1v10M279.9 322.3h10M284.9 317.3v10M319.7 324.8h10M324.7 319.8v10M243.7 339.2h10M248.7 334.2v10M216.0 350.1h10M221.0 345.1v10M160.5 352.5h10M165.5 347.5v10M346.3 350.1h10M351.3 345.1v10M407.6 167.9h10M412.6 162.9v10M388.3 217.4h10M393.3 212.4v10M383.4 247.5h10M388.4 242.5v10M384.7 294.6h10M389.7 289.6v10M382.2 315.1h10M387.2 310.1v10M496.9 184.8h10M501.9 179.8v10M502.9 205.3h10M507.9 200.3v10M432.9 215.0h10M437.9 210.0v10M445.0 247.5h10M450.0 242.5v10M443.8 263.2h10M448.8 258.2v10M552.4 260.8h10M557.4 255.8v10M423.3 309.1h10M428.3 304.1v10M470.3 311.5h10M475.3 306.5v10M534.3 309.1h10M539.3 304.1v10M570.5 330.8h10M575.5 325.8v10M618.7 328.4h10M623.7 323.4v10M633.2 286.1h10M638.2 281.1v10M435.3 347.7h10M440.3 342.7v10M469.1 342.9h10M474.1 337.9v10M120.7 364.7h10M125.7 359.7v10M161.7 356.2h10M166.7 351.2v10M282.3 356.2h10M287.3 351.2v10M165.3 398.4h10M170.3 393.4v10M199.1 393.6h10M204.1 388.6v10M259.4 387.6h10M264.4 382.6v10M282.3 394.8h10M287.3 389.8v10M317.3 382.8h10M322.3 377.8v10M359.6 390.0h10M364.6 385.0v10M119.5 433.4h10M124.5 428.4v10M166.5 429.8h10M171.5 424.8v10M153.2 444.3h10M158.2 439.3v10M193.1 444.3h10M198.1 439.3v10M228.1 427.4h10M233.1 422.4v10M271.5 432.2h10M276.5 427.2v10M295.6 416.5h10M300.6 411.5v10M334.2 411.7h10M339.2 406.7v10M365.6 414.1h10M370.6 409.1v10M71.2 455.1h10M76.2 450.1v10M88.1 468.4h10M93.1 463.4v10M133.9 464.8h10M138.9 459.8v10M118.3 473.2h10M123.3 468.2v10M109.8 475.7h10M114.8 470.7v10M132.7 473.2h10M137.7 468.2v10M138.8 480.5h10M143.8 475.5v10M98.9 481.7h10M103.9 476.7v10M165.3 468.4h10M170.3 463.4v10M181.0 460.0h10M186.0 455.0v10M201.5 461.2h10M206.5 456.2v10M244.9 462.4h10M249.9 457.4v10M283.6 460.0h10M288.6 455.0v10M317.3 462.4h10M322.3 457.4v10M323.4 479.3h10M328.4 474.3v10M365.6 434.6h10M370.6 429.6v10M90.5 495.0h10M95.5 490.0v10M76.0 503.4h10M81.0 498.4v10M80.8 513.1h10M85.8 508.1v10M103.8 513.1h10M108.8 508.1v10M107.4 510.6h10M112.4 505.6v10M114.6 485.3h10M119.6 480.3v10M121.9 485.3h10M126.9 480.3v10M147.2 498.6h10M152.2 493.6v10M155.7 497.4h10M160.7 492.4v10M132.7 507.0h10M137.7 502.0v10M138.8 513.1h10M143.8 508.1v10M173.8 507.0h10M178.8 502.0v10M190.6 522.7h10M195.6 517.7v10M211.2 534.8h10M216.2 529.8v10M153.2 523.9h10M158.2 518.9v10M133.9 525.1h10M138.9 520.1v10M232.9 491.3h10M237.9 486.3v10M115.8 528.7h10M120.8 523.7v10M60.3 525.1h10M65.3 520.1v10M107.4 545.6h10M112.4 540.6v10M80.8 555.3h10M85.8 550.3v10M66.4 561.3h10M71.4 556.3v10M131.5 560.1h10M136.5 555.1v10M175.0 562.5h10M180.0 557.5v10M154.4 575.8h10M159.4 570.8v10M179.8 579.4h10M184.8 574.4v10M96.5 580.6h10M101.5 575.6v10M129.1 584.2h10M134.1 579.2v10M255.8 516.7h10M260.8 511.7v10M292.0 526.3h10M297.0 521.3v10M334.2 513.1h10M339.2 508.1v10M362.0 492.5h10M367.0 487.5v10M355.9 533.6h10M360.9 528.6v10M328.2 548.1h10M333.2 543.1v10M248.6 550.5h10M253.6 545.5v10M252.2 574.6h10M257.2 569.6v10M224.4 572.2h10M229.4 567.2v10M290.8 569.8h10M295.8 564.8v10M322.2 571.0h10M327.2 566.0v10M371.6 571.0h10M376.6 566.0v10M210.0 592.7h10M215.0 587.7v10M231.7 606.0h10M236.7 601.0v10M255.8 599.9h10M260.8 594.9v10M290.8 610.8h10M295.8 605.8v10M335.4 607.2h10M340.4 602.2v10M355.9 601.1h10M360.9 596.1v10M107.4 606.0h10M112.4 601.0v10M71.2 627.7h10M76.2 622.7v10M133.9 624.1h10M138.9 619.1v10M161.7 620.4h10M166.7 615.4v10M200.3 619.2h10M205.3 614.2v10M254.6 622.9h10M259.6 617.9v10M357.2 630.1h10M362.2 625.1v10M384.7 371.9h10M389.7 366.9v10M396.7 377.9h10M401.7 372.9v10M379.8 388.8h10M384.8 383.8v10M408.8 400.8h10M413.8 395.8v10M377.4 415.3h10M382.4 410.3v10M375.0 434.6h10M380.0 429.6v10M413.6 447.9h10M418.6 442.9v10M395.5 472.0h10M400.5 467.0v10M430.5 469.6h10M435.5 464.6v10M432.9 400.8h10M437.9 395.8v10M461.9 412.9h10M466.9 407.9v10M486.0 390.0h10M491.0 385.0v10M473.9 438.3h10M478.9 433.3v10M495.7 437.0h10M500.7 432.0v10M480.0 485.3h10M485.0 480.3v10M536.7 446.7h10M541.7 441.7v10M516.2 364.7h10M521.2 359.7v10M525.8 375.5h10M530.8 370.5v10M527.0 384.0h10M532.0 379.0v10M640.4 358.6h10M645.4 353.6v10M667.0 392.4h10M672.0 387.4v10M654.9 409.3h10M659.9 404.3v10M611.5 418.9h10M616.5 413.9v10M576.5 426.2h10M581.5 421.2v10M587.4 466.0h10M592.4 461.0v10M624.8 466.0h10M629.8 461.0v10M661.0 449.1h10M666.0 444.1v10M481.2 517.9h10M486.2 512.9v10M539.1 482.9h10M544.1 477.9v10M516.2 496.2h10M521.2 491.2v10M529.4 505.8h10M534.4 500.8v10M594.6 514.3h10M599.6 509.3v10M642.9 507.0h10M647.9 502.0v10M676.6 504.6h10M681.6 499.6v10M612.7 521.5h10M617.7 516.5v10M574.1 539.6h10M579.1 534.6v10M548.7 548.1h10M553.7 543.1v10M618.7 542.0h10M623.7 537.0v10M525.8 558.9h10M530.8 553.9v10M559.6 573.4h10M564.6 568.4v10M499.3 589.1h10M504.3 584.1v10M416.0 499.8h10M421.0 494.8v10M424.5 509.4h10M429.5 504.4v10M377.4 511.9h10M382.4 506.9v10M412.4 536.0h10M417.4 531.0v10M394.3 540.8h10M399.3 535.8v10M432.9 532.4h10M437.9 527.4v10M437.7 536.0h10M442.7 531.0v10M452.2 540.8h10M457.2 535.8v10M459.5 546.8h10M464.5 541.8v10M493.2 544.4h10M498.2 539.4v10M493.2 556.5h10M498.2 551.5v10M511.3 536.0h10M516.3 531.0v10M464.3 578.2h10M469.3 573.2v10M408.8 564.9h10M413.8 559.9v10M438.9 573.4h10M443.9 568.4v10M394.3 587.9h10M399.3 582.9v10M423.3 590.3h10M428.3 585.3v10M441.4 596.3h10M446.4 591.3v10M452.2 620.4h10M457.2 615.4v10M471.5 608.4h10M476.5 603.4v10M420.8 622.9h10M425.8 617.9v10M387.1 625.3h10M392.1 620.3v10M493.2 626.5h10M498.2 621.5v10M115.8 638.6h10M120.8 633.6v10M94.1 660.3h10M99.1 655.3v10M89.3 670.0h10M94.3 665.0v10M146.0 670.0h10M151.0 665.0v10M155.7 678.4h10M160.7 673.4v10M96.5 686.9h10M101.5 681.9v10M127.9 683.3h10M132.9 678.3v10M102.6 698.9h10M107.6 693.9v10M131.5 698.9h10M136.5 693.9v10M126.7 717.0h10M131.7 712.0v10M148.4 715.8h10M153.4 710.8v10M173.8 661.5h10M178.8 656.5v10M183.4 672.4h10M188.4 667.4v10M208.7 645.9h10M213.7 640.9v10M211.2 660.3h10M216.2 655.3v10M225.6 649.5h10M230.6 644.5v10M242.5 650.7h10M247.5 645.7v10M178.6 694.1h10M183.6 689.1v10M201.5 695.3h10M206.5 690.3v10M207.5 705.0h10M212.5 700.0v10M223.2 692.9h10M228.2 687.9v10M170.1 718.3h10M175.1 713.3v10M175.0 718.3h10M180.0 713.3v10M194.3 712.2h10M199.3 707.2v10M197.9 715.8h10M202.9 710.8v10M216.0 723.1h10M221.0 718.1v10M276.3 637.4h10M281.3 632.4v10M312.5 637.4h10M317.5 632.4v10M357.2 637.4h10M362.2 632.4v10M288.4 659.1h10M293.4 654.1v10M336.6 660.3h10M341.6 655.3v10M357.2 659.1h10M362.2 654.1v10M312.5 673.6h10M317.5 668.6v10M243.7 696.5h10M248.7 691.5v10M247.4 696.5h10M252.4 691.5v10M290.8 692.9h10M295.8 687.9v10M306.5 715.8h10M311.5 710.8v10M333.0 726.7h10M338.0 721.7v10M278.7 723.1h10M283.7 718.1v10M288.4 720.7h10M293.4 715.7v10M230.5 733.9h10M235.5 728.9v10M247.4 750.8h10M252.4 745.8v10M277.5 744.8h10M282.5 739.8v10M300.4 747.2h10M305.4 742.2v10M339.1 755.7h10M344.1 750.7v10M279.9 764.1h10M284.9 759.1v10M264.2 768.9h10M269.2 763.9v10M290.8 771.3h10M295.8 766.3v10M319.7 767.7h10M324.7 762.7v10M370.4 777.4h10M375.4 772.4v10M207.5 762.9h10M212.5 757.9v10M237.7 760.5h10M242.7 755.5v10M228.1 789.4h10M233.1 784.4v10M272.7 789.4h10M277.7 784.4v10M289.6 799.1h10M294.6 794.1v10M334.2 801.5h10M339.2 796.5v10M348.7 802.7h10M353.7 797.7v10M368.0 805.1h10M373.0 800.1v10M187.0 797.9h10M192.0 792.9v10M231.7 810.0h10M236.7 805.0v10M258.2 811.2h10M263.2 806.2v10M329.4 824.4h10M334.4 819.4v10M364.4 831.7h10M369.4 826.7v10M188.2 823.2h10M193.2 818.2v10M225.6 838.9h10M230.6 833.9v10M253.4 838.9h10M258.4 833.9v10M283.6 835.3h10M288.6 830.3v10M177.4 844.9h10M182.4 839.9v10M328.2 859.4h10M333.2 854.4v10M258.2 860.6h10M263.2 855.6v10M299.2 864.2h10M304.2 859.2v10M172.5 873.9h10M177.5 868.9v10M218.4 873.9h10M223.4 868.9v10M355.9 877.5h10M360.9 872.5v10M405.2 648.3h10M410.2 643.3v10M453.4 643.4h10M458.4 638.4v10M502.9 643.4h10M507.9 638.4v10M429.3 659.1h10M434.3 654.1v10M377.4 682.1h10M382.4 677.1v10M408.8 677.2h10M413.8 672.2v10M411.2 689.3h10M416.2 684.3v10M404.0 694.1h10M409.0 689.1v10M419.6 696.5h10M424.6 691.5v10M417.2 703.8h10M422.2 698.8v10M419.6 711.0h10M424.6 706.0v10M379.8 707.4h10M384.8 702.4v10M382.2 709.8h10M387.2 704.8v10M440.2 684.5h10M445.2 679.5v10M471.5 689.3h10M476.5 684.3v10M472.7 692.9h10M477.7 687.9v10M495.7 672.4h10M500.7 667.4v10M499.3 695.3h10M504.3 690.3v10M455.8 714.6h10M460.8 709.6v10M400.3 740.0h10M405.3 735.0v10M492.0 733.9h10M497.0 728.9v10M529.4 717.0h10M534.4 712.0v10M529.4 750.8h10M534.4 745.8v10M569.3 738.8h10M574.3 733.8v10M553.6 755.7h10M558.6 750.7v10M588.6 758.1h10M593.6 753.1v10M587.4 781.0h10M592.4 776.0v10M389.5 755.7h10M394.5 750.7v10M448.6 756.9h10M453.6 751.9v10M465.5 756.9h10M470.5 751.9v10M441.4 764.1h10M446.4 759.1v10M431.7 778.6h10M436.7 773.6v10M451.0 778.6h10M456.0 773.6v10M495.7 783.4h10M500.7 778.4v10M502.9 784.6h10M507.9 779.6v10M525.8 779.8h10M530.8 774.8v10M553.6 799.1h10M558.6 794.1v10M414.8 794.3h10M419.8 789.3v10M399.1 803.9h10M404.1 798.9v10M466.7 793.1h10M471.7 788.1v10M436.5 806.3h10M441.5 801.3v10M486.0 811.2h10M491.0 806.2v10M508.9 822.0h10M513.9 817.0v10M541.5 818.4h10M546.5 813.4v10M423.3 820.8h10M428.3 815.8v10M480.0 830.5h10M485.0 825.5v10M410.0 830.5h10M415.0 825.5v10M432.9 846.1h10M437.9 841.1v10M496.9 852.2h10M501.9 847.2v10M524.6 849.8h10M529.6 844.8v10M548.7 866.7h10M553.7 861.7v10M418.4 861.8h10M423.4 856.8v10M445.0 864.2h10M450.0 859.2v10M464.3 861.8h10M469.3 856.8v10M420.8 888.4h10M425.8 883.4v10M384.7 849.8h10M389.7 844.8v10M391.9 861.8h10M396.9 856.8v10" stroke="#000" stroke-opacity="0.3" stroke-width="2.5" fill="none"/>
<circle cx="191.5" cy="183.0" r="1.5" fill="#000"/>
<circle cx="249.4" cy="197.5" r="1.3" fill="#000"/>
<circle cx="230.8" cy="209.2" r="1.0" fill="#000"/>
<circle cx="234.3" cy="211.8" r="1.0" fill="#000"/>
<circle cx="236.8" cy="213.6" r="1.0" fill="#000"/>
<path d="M408.7 208.1L400.5 218.1L398.7 225.3L404.2 232.6L411.4 238.0L412.3 245.2L408.7 250.7L404.2 252.5L403.3 257.9L395.1 263.3L389.7 265.1L388.8 274.2M366.1 267.0L378.8 272.4L387.9 276.0L396.9 279.6L406.0 281.4L418.7 285.1M272.0 218.1L285.6 218.1L294.6 219.9L301.9 228.9L307.3 238.0L312.7 247.0L320.0 250.7M310.0 241.6L317.2 248.9L326.3 253.4M500.0 275.7L507.2 278.4L518.1 283.9L527.2 287.5L536.2 289.3L545.3 293.8L554.3 294.7L559.8 297.4L568.8 292.9L576.1 289.3L585.1 286.6L594.2 283.9L599.6 276.6L603.2 269.4L608.7 265.7L615.9 262.1L618.6 254.9L621.3 258.5L626.8 263.9L635.8 267.6L644.9 268.5L652.1 270.3L648.5 278.4L643.1 285.7L650.3 286.6L657.6 282.0L663.9 280.2M373.2 270.0L385.9 273.6L396.8 277.2L407.6 279.1L414.9 278.1L418.5 282.7L422.1 289.9L429.4 295.4L436.6 302.6L443.9 303.5L451.1 301.7L456.5 299.0L458.3 293.5L462.0 289.9L469.2 288.1L474.6 287.2L480.1 284.5L487.3 282.7L492.7 277.2L498.2 275.4M429.4 297.2L436.6 304.4L443.9 308.0L451.1 308.0L460.1 311.7L465.6 315.3L471.0 318.9L478.3 324.3L487.3 328.0L498.2 329.8M452.9 313.5L451.1 320.7L440.2 328.0L429.4 326.1L418.5 326.1L411.3 331.6L400.4 332.5L398.6 338.8L404.0 347.9L411.3 356.9L414.9 358.7L413.1 364.2L416.7 371.4L413.1 375.0L420.3 382.3L422.1 389.5L420.3 396.8L422.1 404.0L420.3 411.3L414.9 414.9L413.1 418.5L400.4 420.3L393.1 422.1L385.9 423.9L389.5 427.6L387.7 433.0L385.9 440.2L387.7 447.5L389.5 454.7L393.1 462.0L391.3 469.2L384.1 471.0L375.0 469.2L369.6 474.6L366.0 480.1M393.1 462.0L404.0 462.9L411.3 467.4L414.9 480.1M132.4 397.7L141.4 395.9L150.5 394.0L159.5 389.5L166.8 385.9L169.5 378.7L172.2 374.1L175.8 375.0L179.4 380.5L184.9 383.2L193.9 385.9L195.7 389.5L194.8 396.8L193.9 404.0L197.6 407.6L199.4 411.3L192.1 414.9L193.9 420.3L203.0 418.5L212.0 414.9L221.1 411.3L226.5 409.4L235.6 404.9L232.0 396.8L232.0 387.7L228.3 382.3L222.9 379.6L221.1 375.9L228.3 373.2L235.6 370.5L241.0 368.7L247.4 368.7L250.1 371.4L250.1 381.4L257.3 383.2L264.6 381.4L270.0 380.5M270.0 375.9L270.0 375.0L275.4 370.5L280.9 373.2L279.1 378.7L273.6 385.9L270.0 389.5M270.0 380.5L268.0 378.5L270.0 375.9M270.0 389.5L269.0 395.0L270.0 404.0M270.0 404.0L277.2 407.6L282.7 413.1L286.3 420.3L289.9 427.6L297.2 433.0L302.6 440.2L304.4 447.5L300.8 452.9L299.0 462.0L306.2 463.8L313.5 463.8L318.9 467.4L317.1 474.6L315.3 480.1M234.7 290.8L242.8 293.5L246.4 297.2L250.1 304.4L255.5 309.8L262.7 312.6L268.2 313.5L270.0 308.0L266.4 300.8L260.9 299.0L253.7 297.2L244.6 293.5L235.6 289.9L234.7 290.8M83.5 600.4L90.7 596.8L98.0 598.6L103.4 596.8L110.6 597.7L109.7 591.3L112.4 585.9L117.9 582.3L119.7 578.7L125.1 575.0L132.4 573.2L141.4 569.6L148.7 566.0L155.9 562.4L163.1 558.7L170.4 555.1L177.6 551.5L183.1 546.1L184.9 538.8L188.5 542.4L192.1 546.1L197.6 549.7L199.4 555.1L203.0 560.5L206.6 562.4M206.6 562.4L210.2 556.9L217.5 549.7L224.7 542.4L232.0 537.0L235.6 531.6L237.4 524.3L246.4 520.7L251.9 517.1L253.7 511.7L250.1 506.2L242.8 504.4L241.0 500.8L246.4 495.4L251.9 491.7L257.3 489.9L264.6 488.1L266.4 480.9L270.0 479.1M206.6 562.4L209.3 569.6L208.4 576.8L203.0 580.5L199.4 585.9L197.6 593.1L203.0 598.6L206.6 605.8L204.8 611.3L199.4 613.1L193.9 614.9L190.3 620.3L188.5 625.7L183.1 629.4L184.9 633.0L190.3 638.4L197.6 637.5L206.6 634.8L213.9 633.0L219.3 634.8L222.9 640.2L224.7 647.5L226.5 652.9L230.1 656.5L233.8 661.1L228.3 665.6L226.5 672.8L228.3 680.1M80.8 681.7L89.0 681.7L98.0 682.6L107.1 680.8L114.3 678.1L119.8 676.3L125.2 674.5L128.8 673.6L134.2 676.3L139.7 677.2L145.1 679.9L146.9 683.5L147.8 690.8L145.1 693.5L148.7 698.0L154.2 700.7L156.0 705.3L150.5 710.7L148.7 716.1L152.4 721.6M228.4 678.1L239.3 681.7L242.9 678.1L244.7 676.3L250.1 676.3L250.1 681.7L253.8 685.4L259.2 687.2L261.0 690.8L259.2 696.2L262.8 698.0L266.4 694.4L273.7 689.0L277.3 685.4L280.9 683.5M315.3 470.0L317.1 477.2L315.3 484.5L313.5 491.7L320.7 497.2L326.1 499.0L328.0 495.4L324.3 493.5L328.0 489.9L333.4 487.2L338.8 489.9L340.6 495.4L342.4 500.8L349.7 506.2L358.7 511.7L360.5 517.1L356.9 520.7L358.7 528.0L355.1 531.6L349.7 533.4L346.1 537.0L342.4 540.6L346.1 546.1L344.2 553.3L338.8 558.7L337.0 564.2L337.0 568.7L342.4 567.8L347.9 568.7L349.7 575.0L347.9 580.5L342.4 587.7L337.0 593.1L329.8 595.0L328.0 600.4L324.3 605.8L317.1 611.3L309.8 613.1L308.9 618.5L308.0 625.7L300.8 626.6L293.5 622.1L286.3 622.1L277.2 623.9L271.8 625.7M349.7 578.7L355.1 578.7L364.2 584.1L371.4 593.1L378.7 596.8L385.9 600.4L389.5 607.6L391.3 613.1L396.8 611.3L404.0 610.3L405.8 608.5L400.4 605.8L396.8 600.4L404.0 596.8L411.3 596.8L416.7 598.6L420.3 600.4L427.6 604.0L431.2 607.6L434.8 605.8L434.8 596.8L436.6 587.7L442.0 584.1L447.5 585.9L449.3 593.1L452.9 595.0L460.1 595.0L469.2 593.1L480.1 593.1L487.3 596.8L494.6 602.2L500.0 605.8M270.0 477.2L277.2 480.9L282.7 483.6L288.1 480.9L297.2 470.0M338.8 489.9L344.2 488.1L351.5 484.5L360.5 480.9L369.6 475.4L371.4 470.0M407.6 470.0L413.1 479.1L416.7 486.3L423.9 488.1L433.0 489.0L440.2 489.9L447.5 495.4L451.1 500.8L445.7 506.2L447.5 509.8L451.1 515.3L452.9 518.9L460.1 520.7L469.2 524.3L478.3 528.0L487.3 532.5L494.6 533.4L500.0 534.3M281.3 683.3L277.7 673.6L278.9 659.1L274.1 635.0L271.8 633.0L270.0 631.2M293.5 662.0L300.8 660.1L309.8 658.3L317.1 658.3L318.9 665.6L324.3 664.7L331.6 667.4L333.4 674.6L337.0 680.1M337.0 680.1L346.5 685.7L351.3 689.3L351.0 700.0M490.0 327.2L497.2 328.1L500.9 329.9L506.3 332.6L508.1 338.0L504.5 341.7L502.7 350.7L502.7 358.0L500.9 363.4L500.0 368.8L506.3 370.6L509.9 374.2L510.8 379.7L509.0 386.9L508.1 396.0L506.3 403.2L505.4 406.8L508.1 412.3L513.5 417.7L519.0 421.3L526.2 425.0L533.5 424.0L538.9 425.0L544.3 428.6L551.6 430.4L558.8 434.0L562.4 436.7L569.7 438.5L573.3 441.3L574.2 450.3L575.1 455.7L571.5 459.4L566.1 463.0M566.1 463.0L562.4 461.2L553.4 460.3L544.3 460.3L535.3 463.9L526.2 466.6L517.2 468.4L508.1 469.3L503.6 473.9L502.7 481.1L500.9 486.5L501.8 492.0L502.7 499.2L502.7 510.1M566.1 463.0L571.5 466.6L573.3 473.9L575.1 481.1L576.9 488.3L584.2 486.5L591.4 486.5L598.7 490.1L607.7 492.0L616.8 492.9L625.8 492.0L634.9 490.1L640.3 481.1L643.9 475.7L649.4 474.8L656.6 475.7L663.9 473.9L671.1 472.9L676.5 471.1L682.0 472.0L685.6 472.0M504.5 470.0L500.9 480.9L502.7 488.1L502.7 499.0L504.5 511.7L506.3 517.1L509.9 520.7L515.4 522.5L520.8 524.3L526.2 528.0L533.5 531.6L535.3 540.6M440.0 583.1L444.3 582.2L447.8 583.1L448.6 587.4L451.2 591.7L453.8 595.2L457.2 596.0L460.7 594.3L465.9 593.9L470.2 593.0L474.5 592.2L477.1 594.3L480.5 592.6L483.1 590.9L487.4 596.9L491.7 600.3L496.9 602.1L498.6 603.8M483.1 590.9L482.2 589.1L486.6 586.6L485.7 583.1L481.4 580.5L480.5 577.9L484.8 575.3L488.3 571.9L490.0 571.0L491.7 576.2L494.3 577.9L497.8 575.3L500.3 571.9L503.8 571.0L509.0 569.3L512.4 565.9L511.6 563.3L509.0 560.7L507.2 557.2L508.1 553.8L508.1 551.2L513.3 549.5L519.3 547.8L521.9 545.2L524.5 542.6L530.5 540.9L536.6 540.0M351.0 700.0L354.6 709.1L356.4 718.1L361.9 725.4L361.9 732.6L369.1 736.2L376.4 743.5L377.3 752.5L376.4 761.6L372.7 767.0L367.3 768.8L363.7 772.4L365.5 779.7L363.7 786.9L354.6 790.5L349.2 794.2L345.6 797.8L342.0 801.4L345.6 806.8L349.2 815.9L352.8 826.8L354.6 837.6L352.8 844.9L351.0 853.9M352.9 856.1L349.3 859.8L352.0 863.4L352.9 868.8L350.2 873.3L346.6 870.6L342.0 871.5L338.4 872.4L334.8 870.6L332.1 872.4L329.4 875.1L324.0 877.8L318.6 878.7L314.9 879.6L311.3 878.7" fill="none" stroke="#000" stroke-width="1.8" stroke-linejoin="round" stroke-linecap="round"/>
<path d="M196.8 227.7L188.3 227.5L188.7 229.3L196.5 229.3ZM176.6 230.0L177.6 231.5L187.1 230.0L186.0 228.2ZM161.0 232.9L162.1 234.7L175.8 232.6L175.1 230.7ZM208.1 235.1L208.6 236.5L212.8 236.2L213.5 234.0ZM137.4 236.2L138.9 238.0L159.9 235.1L158.8 233.1ZM116.8 240.7L119.0 243.1L134.4 240.3L133.5 238.5ZM101.2 250.3L104.5 253.4L113.2 249.4L111.4 247.0ZM220.5 104.0L219.8 112.0L219.6 119.5L220.9 119.5L221.1 112.0L221.8 106.5L224.5 105.0L229.0 106.5L232.5 105.5L228.0 103.0L224.3 101.5L224.2 96.0L227.0 90.0L231.0 85.2L232.5 83.5L229.0 82.5L225.0 88.0L222.0 96.0ZM242.1 119.4L235.8 117.6L229.4 119.4L229.4 124.3L235.8 126.1L242.1 123.9ZM221.3 124.8L225.8 134.8L228.5 133.0L224.0 123.5ZM247.6 141.6L242.5 143.5L243.6 147.8L248.5 148.3L250.8 144.7ZM563.4 153.5L556.1 154.4L547.1 154.4L536.2 153.5L529.0 151.7L527.3 149.2L523.7 156.5L518.3 163.7L516.4 171.0L509.2 173.7L502.0 178.2L498.3 182.8L491.1 183.7L482.0 186.4L473.0 186.4L465.7 187.3L460.3 196.3L456.7 200.0L453.1 205.4L451.3 210.8L447.6 213.5L442.2 209.0L436.8 209.9L433.1 204.5L427.7 202.7L418.7 204.5L410.5 208.1L414.1 214.4L410.5 212.6L408.7 207.2L403.3 205.4L398.7 201.8L400.5 196.3L407.8 193.6L415.0 187.3L424.1 181.8L423.2 169.2L424.1 161.9L421.4 160.1L415.0 161.0L407.8 163.7L400.5 169.2L395.1 169.2L387.9 161.9L378.8 158.3L369.8 154.7L364.3 155.6L358.9 160.1L355.3 167.4L354.4 163.7L356.2 160.1L358.0 156.5L358.0 151.1L353.5 148.9L346.2 149.2L339.0 151.1L332.6 152.0L333.5 149.2L341.7 146.5L346.2 142.0L347.1 134.8L347.1 125.7L344.4 122.1L342.6 116.7L337.2 113.0L333.5 117.6L328.1 113.0L316.3 108.5L315.4 106.0L320.0 104.9L315.0 104.9L314.5 103.6L310.0 107.2L311.4 106.9L307.3 109.4L301.9 107.6L298.3 109.4L291.0 111.2L289.2 107.6L278.3 104.0L271.1 102.2L262.0 100.4L253.0 100.0L243.9 101.3L247.6 111.2L249.4 118.5L253.0 127.5L258.4 133.0L262.9 137.5L264.8 145.6L260.2 147.4L259.3 151.1L263.9 151.1L271.1 146.5L272.0 149.2L267.5 153.8L260.2 157.4L251.2 159.2L245.7 160.1L243.0 163.7L242.1 169.2L247.6 172.8L253.9 171.9L258.4 173.7L259.3 181.8L259.3 187.3L264.8 190.9L270.2 196.3L269.3 200.0L261.1 200.0L259.3 201.8L263.9 209.0L269.3 214.4L272.0 219.9L263.9 222.6L254.8 221.7L249.4 218.1L245.7 216.3L240.3 219.9L238.5 228.9L234.9 238.0L236.7 247.0L240.3 248.9L245.7 250.7L246.6 256.1L244.8 261.5L238.5 263.3L234.9 261.5L229.4 254.3L225.8 247.9L220.4 247.9L217.7 251.6L216.8 256.1L220.4 261.5L219.5 269.7L215.0 271.5L209.5 267.0L205.0 263.3L204.1 257.9L210.4 255.2L210.4 248.9L205.9 241.6L202.3 237.1L191.4 235.3L176.9 237.1L162.4 238.9L148.0 240.7L140.7 243.4L135.3 248.9L131.7 256.1L135.3 256.1L129.8 257.9L128.0 265.1L127.1 276.0L126.9 270.0L126.9 277.2L136.0 278.1L144.1 279.1L143.2 288.1L141.4 297.2L140.5 302.6L142.3 306.2L142.3 317.1L137.8 324.3L133.3 331.6L131.5 340.6L131.5 355.1L119.7 354.2L107.9 354.2L106.1 358.7L104.3 364.2L107.0 366.0L104.3 369.6L106.1 374.1L116.1 375.9L125.1 376.8L128.7 380.5L130.5 387.7L129.6 395.0L132.4 398.6L126.9 400.4L123.3 404.0L117.9 407.6L114.2 413.1L105.2 418.5L107.0 422.1L112.4 423.9L114.2 429.4L108.8 433.9L99.8 434.8L92.5 437.5L85.3 439.3L82.6 438.4L76.2 438.4L67.2 436.6L63.5 435.7L58.1 440.2L50.9 442.9L52.7 449.3L50.9 452.9L56.3 456.5L58.1 462.0L63.5 465.6L65.4 470.0L69.0 475.4L69.9 480.9L69.9 488.1L68.1 495.4L62.6 502.6L59.9 508.0L61.7 511.7L67.2 512.6L65.4 515.3L58.1 518.0L50.9 522.5L45.4 525.2L47.2 529.8L52.7 531.6L57.2 537.0L61.7 538.8L59.9 544.2L54.5 549.7L53.6 553.3L58.1 556.9L59.9 562.4L65.4 567.8L69.0 573.2L68.1 578.7L72.6 582.3L78.0 587.7L81.7 593.1L83.5 600.4L78.9 604.0L74.4 607.6L69.9 611.3L67.2 614.9L67.2 622.1L64.4 627.6L65.4 633.0L69.0 638.4L72.6 643.9L79.8 649.3L88.9 654.7L89.9 660.0L86.3 667.2L81.7 674.5L80.8 679.9L80.8 687.2L86.3 690.8L91.7 692.6L95.3 698.0L96.2 703.5L101.7 708.9L105.3 714.3L107.1 719.8L112.5 721.6L116.1 718.9L123.4 718.9L128.8 721.6L131.5 726.1L139.7 725.2L146.9 724.3L152.4 721.6L157.8 721.6L163.2 725.2L166.8 729.7L172.3 732.4L179.5 733.3L186.8 734.2L195.8 733.3L204.9 736.1L210.3 739.7L217.0 740.7L213.4 743.5L209.8 748.9L208.0 754.3L202.5 758.0L197.1 761.6L195.3 765.2L191.7 770.6L187.1 774.2L185.3 779.7L182.6 786.9L181.7 794.2L179.9 801.4L177.2 808.7L173.5 815.9L170.8 823.1L169.0 830.4L168.1 839.4L167.2 848.5L166.3 857.6L164.5 866.6L166.3 873.9L169.9 879.3L173.5 881.1L177.2 882.9L186.2 881.1L195.3 881.1L204.3 880.2L200.0 883.5L206.5 881.7L214.5 877.4L218.8 877.7L221.7 880.6L225.3 881.7L234.7 880.3L232.5 876.3L228.9 870.5L230.4 866.9L234.0 862.5L238.3 859.6L241.2 857.8L244.8 861.8L247.0 858.9L252.8 864.0L252.1 867.6L257.1 868.3L257.8 865.4L261.5 867.6L264.4 873.4L268.7 872.7L272.3 870.1L279.5 871.6L287.5 871.9L296.9 872.7L304.1 873.4L302.3 872.4L307.7 873.3L309.5 876.0L311.3 878.7L315.8 880.5L320.4 882.3L324.9 884.2L325.8 881.4L328.5 879.6L330.3 881.4L333.0 883.3L336.6 884.2L341.1 885.1L343.9 888.7L347.5 891.4L350.2 895.9L351.1 898.6L353.8 901.3L358.3 899.5L360.1 901.3L358.3 906.7L357.4 910.4L363.7 908.6L369.2 904.0L374.6 899.5L378.2 890.5L380.0 883.2L389.9 884.2L399.8 884.2L407.8 886.2L409.7 890.2L415.7 896.1L423.6 898.1L431.5 896.1L439.5 892.1L447.4 888.2L455.3 884.2L463.3 880.2L469.2 876.3L479.1 874.3L487.1 874.3L495.0 876.3L502.9 876.3L506.9 872.3L514.8 870.3L522.7 872.3L530.7 874.3L538.6 872.3L544.6 876.3L546.5 882.2L552.5 886.2L558.4 890.2L562.4 890.2L566.4 884.2L569.3 878.3L568.3 870.3L562.4 866.4L558.4 862.4L562.4 856.4L560.4 850.5L556.4 846.5L552.5 840.6L546.5 834.6L544.6 828.7L548.5 822.7L554.5 818.8L562.4 814.8L570.3 810.8L576.3 808.9L584.2 806.9L590.2 802.9L592.1 795.0L594.1 785.1L596.1 781.1L602.0 783.1L610.0 785.1L615.9 787.1L619.9 781.1L621.9 775.2L620.9 767.2L621.9 759.3L617.9 753.4L612.0 747.4L604.0 741.5L596.1 739.5L590.2 733.5L582.2 727.6L574.3 723.6L568.3 717.7L562.4 709.7L554.5 703.8L546.5 701.8L542.6 695.9L536.6 691.9L536.6 685.9L531.7 680.1L528.0 672.8L523.5 667.4L519.9 660.1L525.3 652.9L528.9 644.8L524.4 638.4L517.2 633.0L509.9 627.6L504.5 620.3L500.0 609.4L497.2 604.9L500.9 607.6L506.3 611.3L509.9 614.9L512.6 617.6L513.5 611.3L517.2 604.0L520.8 598.6L526.2 595.0L533.5 594.0L538.9 593.1L544.3 590.4L551.6 591.3L558.8 593.1L562.4 587.7L566.1 584.1L575.1 583.2L578.7 578.7L582.4 575.0L587.8 571.4L593.2 571.4L598.7 567.8L602.3 562.4L609.5 560.5L616.8 559.6L624.0 558.7L627.6 555.1L633.1 551.5L638.5 549.7L645.7 547.9L653.0 544.2L662.0 542.4L662.9 538.8L658.4 537.0L653.9 531.6L656.6 528.0L663.9 529.8L671.1 528.0L674.7 531.6L676.5 537.0L680.1 538.8L678.3 542.4L680.1 547.9L689.2 550.6L692.8 549.7L694.6 540.6L698.3 533.4L701.9 524.3L705.5 515.3L708.2 511.7L707.3 510.1L709.1 504.6L709.1 499.2L707.3 492.0L703.7 484.7L698.3 479.3L692.8 475.7L685.6 472.0L689.2 468.4L689.2 463.0L685.6 459.4L682.0 453.9L682.0 448.5L678.3 443.1L680.1 437.6L684.7 430.4L686.5 425.0L689.2 419.5L687.4 415.9L684.7 408.7L685.6 403.2L684.7 397.8L678.3 394.2L674.7 385.1L674.7 377.9L678.3 372.4L678.3 368.8L680.1 363.4L678.3 358.0L671.1 352.5L663.9 347.1L656.6 341.7L649.4 336.2L643.9 333.5L645.7 329.0L644.8 323.5L655.7 314.6L661.2 305.6L663.0 294.7L666.6 286.6L663.9 280.2L661.2 269.4L657.6 258.5L655.7 247.6L653.0 236.8L653.9 233.1L651.2 231.3L649.4 235.0L643.1 233.1L634.0 229.5L626.8 225.9L623.1 222.3L626.8 221.4L630.4 219.6L637.6 218.7L644.9 218.7L650.3 219.6L650.3 212.3L641.3 202.4L634.0 196.9L626.8 195.1L621.3 189.7L619.5 184.2L613.2 185.2L608.7 187.9L601.4 189.7L596.9 194.2L594.2 191.5L590.5 186.1L586.9 178.8L581.5 177.0L572.4 172.5L570.6 170.2L574.7 173.4L581.6 175.6L585.9 173.9L592.8 169.1L598.8 164.8L604.8 164.0L609.6 166.6L610.9 171.7L614.3 172.6L615.2 168.3L613.4 161.4L608.3 157.9L603.5 154.5L604.8 149.3L610.9 145.0L611.3 139.8L608.3 137.2L597.9 138.5L589.3 136.4L590.2 131.2L593.6 128.6L593.2 125.6L581.6 126.9L577.2 130.3L568.6 136.4L566.9 145.0L563.9 152.8L564.3 155.4ZM568.8 168.0L567.9 164.3L569.5 166.6L570.3 169.8ZM439.5 158.3L437.7 151.1L433.1 144.7L424.1 142.9L420.5 144.7L417.8 151.1L420.5 154.7L425.9 154.7L431.3 157.4Z" fill="none" stroke="#000" stroke-width="1.15" stroke-linejoin="round"/>
<path d="M219.4 739.7L223.0 732.4L226.6 721.6L229.3 714.3L232.0 707.1L233.9 703.5L231.1 696.2L229.3 689.0L228.4 678.1L226.6 670.9L227.5 667.2L233.9 660.0" fill="none" stroke="#000" stroke-width="1.2" stroke-linejoin="round"/>
<path d="M243.9 101.3L253.0 100.0L262.0 100.4L271.1 102.2L278.3 104.0L289.2 107.6L291.0 111.2L298.3 109.4L301.9 107.6L307.3 109.4L314.6 104.9L320.0 104.9L310.0 107.2L314.5 103.6L316.3 108.5L328.1 113.0L333.5 117.6L337.2 113.0L342.6 116.7L344.4 122.1L347.1 125.7L347.1 134.8L346.2 142.0L341.7 146.5L333.5 149.2L332.6 152.0L339.0 151.1L346.2 149.2L353.5 148.9L358.0 151.1L358.0 156.5L356.2 160.1L354.4 163.7L355.3 167.4L358.9 160.1L364.3 155.6L369.8 154.7L378.8 158.3L387.9 161.9L395.1 169.2L400.5 169.2L407.8 163.7L415.0 161.0L421.4 160.1L424.1 161.9L423.2 169.2L424.1 181.8L415.0 187.3L407.8 193.6L400.5 196.3L398.7 201.8L403.3 205.4L408.7 207.2L410.5 212.6L414.1 214.4L410.5 208.1L418.7 204.5L427.7 202.7L433.1 204.5L436.8 209.9L442.2 209.0L447.6 213.5L451.3 210.8L453.1 205.4L456.7 200.0L460.3 196.3L465.7 187.3L473.0 186.4L482.0 186.4L491.1 183.7L498.3 182.8L502.0 178.2L509.2 173.7L516.4 171.0L518.3 163.7L523.7 156.5L527.3 149.2L529.0 151.7L536.2 153.5L547.1 154.4L556.1 154.4L563.4 153.5L567.0 160.7L568.8 168.0L572.4 172.5L581.5 177.0L586.9 178.8L590.5 186.1L594.2 191.5L596.9 194.2L601.4 189.7L608.7 187.9L613.2 185.2L619.5 184.2L621.3 189.7L626.8 195.1L634.0 196.9L641.3 202.4L650.3 212.3L650.3 219.6L644.9 218.7L637.6 218.7L630.4 219.6L626.8 221.4L623.1 222.3L626.8 225.9L634.0 229.5L643.1 233.1L649.4 235.0L651.2 231.3L653.9 233.1L653.0 236.8L655.7 247.6L657.6 258.5L661.2 269.4L663.9 280.2L666.6 286.6L663.0 294.7L661.2 305.6L655.7 314.6L644.8 323.5L645.7 329.0L643.9 333.5L649.4 336.2L656.6 341.7L663.9 347.1L671.1 352.5L678.3 358.0L680.1 363.4L678.3 368.8L678.3 372.4L674.7 377.9L674.7 385.1L678.3 394.2L684.7 397.8L685.6 403.2L684.7 408.7L687.4 415.9L689.2 419.5L686.5 425.0L684.7 430.4L680.1 437.6L678.3 443.1L682.0 448.5L682.0 453.9L685.6 459.4L689.2 463.0L689.2 468.4L685.6 472.0L692.8 475.7L698.3 479.3L703.7 484.7L707.3 492.0L709.1 499.2L709.1 504.6L707.3 510.1L708.2 511.7L705.5 515.3L701.9 524.3L698.3 533.4L694.6 540.6L692.8 549.7L689.2 550.6L680.1 547.9L678.3 542.4L680.1 538.8L676.5 537.0L674.7 531.6L671.1 528.0L663.9 529.8L656.6 528.0L653.9 531.6L658.4 537.0L662.9 538.8L662.0 542.4L653.0 544.2L645.7 547.9L638.5 549.7L633.1 551.5L627.6 555.1L624.0 558.7L616.8 559.6L609.5 560.5L602.3 562.4L598.7 567.8L593.2 571.4L587.8 571.4L582.4 575.0L578.7 578.7L575.1 583.2L566.1 584.1L562.4 587.7L558.8 593.1L551.6 591.3L544.3 590.4L538.9 593.1L533.5 594.0L526.2 595.0L520.8 598.6L517.2 604.0L513.5 611.3L512.6 617.6L509.9 614.9L506.3 611.3L500.9 607.6L497.2 604.9L500.0 609.4L504.5 620.3L509.9 627.6L517.2 633.0L524.4 638.4L528.9 644.8L525.3 652.9L519.9 660.1L523.5 667.4L528.0 672.8L531.7 680.1M127.1 276.0L128.0 265.1L129.8 257.9L135.3 256.1L131.7 256.1L135.3 248.9L140.7 243.4L148.0 240.7L162.4 238.9L176.9 237.1L191.4 235.3L202.3 237.1L205.9 241.6L210.4 248.9L210.4 255.2L204.1 257.9L205.0 263.3L209.5 267.0L215.0 271.5L219.5 269.7L220.4 261.5L216.8 256.1L217.7 251.6L220.4 247.9L225.8 247.9L229.4 254.3L234.9 261.5L238.5 263.3L244.8 261.5L246.6 256.1L245.7 250.7L240.3 248.9L236.7 247.0L234.9 238.0L238.5 228.9L240.3 219.9L245.7 216.3L249.4 218.1L254.8 221.7L263.9 222.6L272.0 219.9L269.3 214.4L263.9 209.0L259.3 201.8L261.1 200.0L269.3 200.0L270.2 196.3L264.8 190.9L259.3 187.3L259.3 181.8L258.4 173.7L253.9 171.9L247.6 172.8L242.1 169.2L243.0 163.7L245.7 160.1L251.2 159.2L260.2 157.4L267.5 153.8L272.0 149.2L271.1 146.5L263.9 151.1L259.3 151.1L260.2 147.4L264.8 145.6L262.9 137.5L258.4 133.0L253.0 127.5L249.4 118.5L247.6 111.2L243.9 101.3M229.0 82.5L225.0 88.0L222.0 96.0L220.5 104.0L219.8 112.0L219.6 119.5L220.9 119.5L221.1 112.0L221.8 106.5L224.5 105.0L229.0 106.5L232.5 105.5L228.0 103.0L224.3 101.5L224.2 96.0L227.0 90.0L231.0 85.2L232.5 83.5L229.0 82.5M229.4 119.4L235.8 117.6L242.1 119.4L242.1 123.9L235.8 126.1L229.4 124.3L229.4 119.4M221.3 124.8L224.0 123.5L228.5 133.0L225.8 134.8L221.3 124.8M242.5 143.5L247.6 141.6L250.8 144.7L248.5 148.3L243.6 147.8L242.5 143.5M101.2 250.3L111.4 247.0L113.2 249.4L104.5 253.4L101.2 250.3M116.8 240.7L133.5 238.5L134.4 240.3L119.0 243.1L116.8 240.7M137.4 236.2L158.8 233.1L159.9 235.1L138.9 238.0L137.4 236.2M161.0 232.9L175.1 230.7L175.8 232.6L162.1 234.7L161.0 232.9M176.6 230.0L186.0 228.2L187.1 230.0L177.6 231.5L176.6 230.0M188.3 227.5L196.8 227.7L196.5 229.3L188.7 229.3L188.3 227.5M208.1 235.1L213.5 234.0L212.8 236.2L208.6 236.5L208.1 235.1M417.8 151.1L420.5 144.7L424.1 142.9L433.1 144.7L437.7 151.1L439.5 158.3L431.3 157.4L425.9 154.7L420.5 154.7L417.8 151.1M568.6 136.4L577.2 130.3L581.6 126.9L593.2 125.6L593.6 128.6L590.2 131.2L589.3 136.4L597.9 138.5L608.3 137.2L611.3 139.8L610.9 145.0L604.8 149.3L603.5 154.5L608.3 157.9L613.4 161.4L615.2 168.3L614.3 172.6L610.9 171.7L609.6 166.6L604.8 164.0L598.8 164.8L592.8 169.1L585.9 173.9L581.6 175.6L574.7 173.4L570.3 170.0L569.5 166.6L565.2 160.5L563.9 152.8L566.9 145.0L568.6 136.4" fill="none" stroke="#000" stroke-width="1.8" stroke-linejoin="round"/></svg>
</body></html>
